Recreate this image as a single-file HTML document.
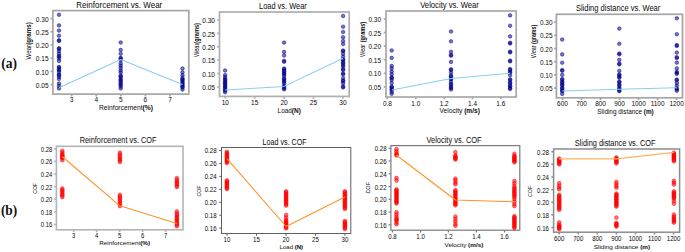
<!DOCTYPE html>
<html><head><meta charset="utf-8"><title>Wear and COF plots</title>
<style>
html,body{margin:0;padding:0;background:#fff;}
body{width:685px;height:252px;overflow:hidden;position:relative;}
svg{position:absolute;left:0;top:0;display:block;font-family:"Liberation Sans", sans-serif;}
</style></head><body>
<svg width="685" height="252" viewBox="0 0 685 252">
<rect width="685" height="252" fill="#fff"/>
<text x="1.2" y="67.5" font-family="Liberation Serif, serif" font-weight="bold" font-size="14.6" fill="#111" textLength="15.8" lengthAdjust="spacingAndGlyphs">(a)</text>
<text x="0.9" y="215.2" font-family="Liberation Serif, serif" font-weight="bold" font-size="14.6" fill="#111" textLength="16.4" lengthAdjust="spacingAndGlyphs">(b)</text>
<rect x="52.90" y="10.60" width="135.90" height="83.50" fill="none" stroke="#a6a6a6" stroke-width="1.7"/>
<line x1="50.60" y1="18.60" x2="52.90" y2="18.60" stroke="#a6a6a6" stroke-width="1.7"/>
<text x="35.85" y="21.74" font-size="7.34" text-anchor="start" font-weight="normal" fill="#0a0a0a" textLength="12.75" lengthAdjust="spacingAndGlyphs">0.30</text>
<line x1="50.60" y1="31.80" x2="52.90" y2="31.80" stroke="#a6a6a6" stroke-width="1.7"/>
<text x="35.85" y="34.94" font-size="7.34" text-anchor="start" font-weight="normal" fill="#0a0a0a" textLength="12.75" lengthAdjust="spacingAndGlyphs">0.25</text>
<line x1="50.60" y1="45.00" x2="52.90" y2="45.00" stroke="#a6a6a6" stroke-width="1.7"/>
<text x="35.85" y="48.14" font-size="7.34" text-anchor="start" font-weight="normal" fill="#0a0a0a" textLength="12.75" lengthAdjust="spacingAndGlyphs">0.20</text>
<line x1="50.60" y1="58.20" x2="52.90" y2="58.20" stroke="#a6a6a6" stroke-width="1.7"/>
<text x="35.85" y="61.34" font-size="7.34" text-anchor="start" font-weight="normal" fill="#0a0a0a" textLength="12.75" lengthAdjust="spacingAndGlyphs">0.15</text>
<line x1="50.60" y1="71.40" x2="52.90" y2="71.40" stroke="#a6a6a6" stroke-width="1.7"/>
<text x="35.85" y="74.54" font-size="7.34" text-anchor="start" font-weight="normal" fill="#0a0a0a" textLength="12.75" lengthAdjust="spacingAndGlyphs">0.10</text>
<line x1="50.60" y1="84.60" x2="52.90" y2="84.60" stroke="#a6a6a6" stroke-width="1.7"/>
<text x="35.85" y="87.74" font-size="7.34" text-anchor="start" font-weight="normal" fill="#0a0a0a" textLength="12.75" lengthAdjust="spacingAndGlyphs">0.05</text>
<line x1="71.60" y1="94.10" x2="71.60" y2="96.40" stroke="#a6a6a6" stroke-width="1.7"/>
<text x="69.78" y="101.90" font-size="7.34" text-anchor="start" font-weight="normal" fill="#0a0a0a" textLength="3.64" lengthAdjust="spacingAndGlyphs">3</text>
<line x1="96.20" y1="94.10" x2="96.20" y2="96.40" stroke="#a6a6a6" stroke-width="1.7"/>
<text x="94.38" y="101.90" font-size="7.34" text-anchor="start" font-weight="normal" fill="#0a0a0a" textLength="3.64" lengthAdjust="spacingAndGlyphs">4</text>
<line x1="120.80" y1="94.10" x2="120.80" y2="96.40" stroke="#a6a6a6" stroke-width="1.7"/>
<text x="118.98" y="101.90" font-size="7.34" text-anchor="start" font-weight="normal" fill="#0a0a0a" textLength="3.64" lengthAdjust="spacingAndGlyphs">5</text>
<line x1="145.40" y1="94.10" x2="145.40" y2="96.40" stroke="#a6a6a6" stroke-width="1.7"/>
<text x="143.58" y="101.90" font-size="7.34" text-anchor="start" font-weight="normal" fill="#0a0a0a" textLength="3.64" lengthAdjust="spacingAndGlyphs">6</text>
<line x1="170.00" y1="94.10" x2="170.00" y2="96.40" stroke="#a6a6a6" stroke-width="1.7"/>
<text x="168.18" y="101.90" font-size="7.34" text-anchor="start" font-weight="normal" fill="#0a0a0a" textLength="3.64" lengthAdjust="spacingAndGlyphs">7</text>
<text x="76.30" y="7.80" font-size="9.20" text-anchor="start" font-weight="normal" fill="#0a0a0a" textLength="86.00" lengthAdjust="spacingAndGlyphs">Reinforcement vs. Wear</text>
<text x="99.00" y="109.90" font-size="6.30" fill="#0a0a0a" textLength="54.00" lengthAdjust="spacingAndGlyphs"><tspan font-weight="normal">Reinforcement</tspan><tspan font-weight="bold">(%)</tspan></text>
<text transform="translate(30.97,59.40) rotate(-90)" x="0" y="0" font-size="6.30" fill="#0a0a0a" textLength="37.10" lengthAdjust="spacingAndGlyphs"><tspan font-weight="normal">Wear</tspan><tspan font-weight="bold">(grams)</tspan></text>
<circle cx="59.00" cy="14.80" r="1.80" fill="#00008b" fill-opacity="0.55" stroke="#00008b" stroke-opacity="0.65" stroke-width="0.7"/>
<circle cx="59.00" cy="25.40" r="1.80" fill="#00008b" fill-opacity="0.55" stroke="#00008b" stroke-opacity="0.65" stroke-width="0.7"/>
<circle cx="59.00" cy="30.60" r="1.80" fill="#00008b" fill-opacity="0.55" stroke="#00008b" stroke-opacity="0.65" stroke-width="0.7"/>
<circle cx="59.00" cy="35.70" r="1.80" fill="#00008b" fill-opacity="0.55" stroke="#00008b" stroke-opacity="0.65" stroke-width="0.7"/>
<circle cx="59.00" cy="40.30" r="1.80" fill="#00008b" fill-opacity="0.55" stroke="#00008b" stroke-opacity="0.65" stroke-width="0.7"/>
<circle cx="59.00" cy="40.90" r="1.80" fill="#00008b" fill-opacity="0.55" stroke="#00008b" stroke-opacity="0.65" stroke-width="0.7"/>
<circle cx="59.00" cy="48.20" r="1.80" fill="#00008b" fill-opacity="0.55" stroke="#00008b" stroke-opacity="0.65" stroke-width="0.7"/>
<circle cx="59.00" cy="48.80" r="1.80" fill="#00008b" fill-opacity="0.55" stroke="#00008b" stroke-opacity="0.65" stroke-width="0.7"/>
<circle cx="59.00" cy="51.00" r="1.80" fill="#00008b" fill-opacity="0.55" stroke="#00008b" stroke-opacity="0.65" stroke-width="0.7"/>
<circle cx="59.00" cy="53.50" r="1.80" fill="#00008b" fill-opacity="0.55" stroke="#00008b" stroke-opacity="0.65" stroke-width="0.7"/>
<circle cx="59.00" cy="56.00" r="1.80" fill="#00008b" fill-opacity="0.55" stroke="#00008b" stroke-opacity="0.65" stroke-width="0.7"/>
<circle cx="59.00" cy="56.60" r="1.80" fill="#00008b" fill-opacity="0.55" stroke="#00008b" stroke-opacity="0.65" stroke-width="0.7"/>
<circle cx="59.00" cy="58.50" r="1.80" fill="#00008b" fill-opacity="0.55" stroke="#00008b" stroke-opacity="0.65" stroke-width="0.7"/>
<circle cx="59.00" cy="61.00" r="1.80" fill="#00008b" fill-opacity="0.55" stroke="#00008b" stroke-opacity="0.65" stroke-width="0.7"/>
<circle cx="59.00" cy="67.00" r="1.80" fill="#00008b" fill-opacity="0.55" stroke="#00008b" stroke-opacity="0.65" stroke-width="0.7"/>
<circle cx="59.00" cy="67.60" r="1.80" fill="#00008b" fill-opacity="0.55" stroke="#00008b" stroke-opacity="0.65" stroke-width="0.7"/>
<circle cx="59.00" cy="69.50" r="1.80" fill="#00008b" fill-opacity="0.55" stroke="#00008b" stroke-opacity="0.65" stroke-width="0.7"/>
<circle cx="59.00" cy="70.20" r="1.80" fill="#00008b" fill-opacity="0.55" stroke="#00008b" stroke-opacity="0.65" stroke-width="0.7"/>
<circle cx="59.00" cy="72.00" r="1.80" fill="#00008b" fill-opacity="0.55" stroke="#00008b" stroke-opacity="0.65" stroke-width="0.7"/>
<circle cx="59.00" cy="74.50" r="1.80" fill="#00008b" fill-opacity="0.55" stroke="#00008b" stroke-opacity="0.65" stroke-width="0.7"/>
<circle cx="59.00" cy="75.10" r="1.80" fill="#00008b" fill-opacity="0.55" stroke="#00008b" stroke-opacity="0.65" stroke-width="0.7"/>
<circle cx="59.00" cy="77.00" r="1.80" fill="#00008b" fill-opacity="0.55" stroke="#00008b" stroke-opacity="0.65" stroke-width="0.7"/>
<circle cx="59.00" cy="79.00" r="1.80" fill="#00008b" fill-opacity="0.55" stroke="#00008b" stroke-opacity="0.65" stroke-width="0.7"/>
<circle cx="59.00" cy="83.50" r="1.80" fill="#00008b" fill-opacity="0.55" stroke="#00008b" stroke-opacity="0.65" stroke-width="0.7"/>
<circle cx="59.00" cy="86.00" r="1.80" fill="#00008b" fill-opacity="0.55" stroke="#00008b" stroke-opacity="0.65" stroke-width="0.7"/>
<circle cx="59.00" cy="88.50" r="1.80" fill="#00008b" fill-opacity="0.55" stroke="#00008b" stroke-opacity="0.65" stroke-width="0.7"/>
<circle cx="120.70" cy="42.50" r="1.80" fill="#00008b" fill-opacity="0.55" stroke="#00008b" stroke-opacity="0.65" stroke-width="0.7"/>
<circle cx="120.70" cy="49.90" r="1.80" fill="#00008b" fill-opacity="0.55" stroke="#00008b" stroke-opacity="0.65" stroke-width="0.7"/>
<circle cx="120.70" cy="53.70" r="1.80" fill="#00008b" fill-opacity="0.55" stroke="#00008b" stroke-opacity="0.65" stroke-width="0.7"/>
<circle cx="120.70" cy="57.90" r="1.80" fill="#00008b" fill-opacity="0.55" stroke="#00008b" stroke-opacity="0.65" stroke-width="0.7"/>
<circle cx="120.70" cy="58.50" r="1.80" fill="#00008b" fill-opacity="0.55" stroke="#00008b" stroke-opacity="0.65" stroke-width="0.7"/>
<circle cx="120.70" cy="60.20" r="1.80" fill="#00008b" fill-opacity="0.55" stroke="#00008b" stroke-opacity="0.65" stroke-width="0.7"/>
<circle cx="120.70" cy="63.40" r="1.80" fill="#00008b" fill-opacity="0.55" stroke="#00008b" stroke-opacity="0.65" stroke-width="0.7"/>
<circle cx="120.70" cy="65.80" r="1.80" fill="#00008b" fill-opacity="0.55" stroke="#00008b" stroke-opacity="0.65" stroke-width="0.7"/>
<circle cx="120.70" cy="68.00" r="1.80" fill="#00008b" fill-opacity="0.55" stroke="#00008b" stroke-opacity="0.65" stroke-width="0.7"/>
<circle cx="120.70" cy="70.50" r="1.80" fill="#00008b" fill-opacity="0.55" stroke="#00008b" stroke-opacity="0.65" stroke-width="0.7"/>
<circle cx="120.70" cy="72.50" r="1.80" fill="#00008b" fill-opacity="0.55" stroke="#00008b" stroke-opacity="0.65" stroke-width="0.7"/>
<circle cx="120.70" cy="75.60" r="1.80" fill="#00008b" fill-opacity="0.55" stroke="#00008b" stroke-opacity="0.65" stroke-width="0.7"/>
<circle cx="120.70" cy="76.40" r="1.80" fill="#00008b" fill-opacity="0.55" stroke="#00008b" stroke-opacity="0.65" stroke-width="0.7"/>
<circle cx="120.70" cy="78.00" r="1.80" fill="#00008b" fill-opacity="0.55" stroke="#00008b" stroke-opacity="0.65" stroke-width="0.7"/>
<circle cx="120.70" cy="79.80" r="1.80" fill="#00008b" fill-opacity="0.55" stroke="#00008b" stroke-opacity="0.65" stroke-width="0.7"/>
<circle cx="120.70" cy="80.60" r="1.80" fill="#00008b" fill-opacity="0.55" stroke="#00008b" stroke-opacity="0.65" stroke-width="0.7"/>
<circle cx="120.70" cy="82.20" r="1.80" fill="#00008b" fill-opacity="0.55" stroke="#00008b" stroke-opacity="0.65" stroke-width="0.7"/>
<circle cx="120.70" cy="84.00" r="1.80" fill="#00008b" fill-opacity="0.55" stroke="#00008b" stroke-opacity="0.65" stroke-width="0.7"/>
<circle cx="120.70" cy="84.80" r="1.80" fill="#00008b" fill-opacity="0.55" stroke="#00008b" stroke-opacity="0.65" stroke-width="0.7"/>
<circle cx="120.70" cy="86.50" r="1.80" fill="#00008b" fill-opacity="0.55" stroke="#00008b" stroke-opacity="0.65" stroke-width="0.7"/>
<circle cx="120.70" cy="88.50" r="1.80" fill="#00008b" fill-opacity="0.55" stroke="#00008b" stroke-opacity="0.65" stroke-width="0.7"/>
<circle cx="182.50" cy="68.50" r="1.80" fill="#00008b" fill-opacity="0.55" stroke="#00008b" stroke-opacity="0.65" stroke-width="0.7"/>
<circle cx="182.50" cy="72.40" r="1.80" fill="#00008b" fill-opacity="0.55" stroke="#00008b" stroke-opacity="0.65" stroke-width="0.7"/>
<circle cx="182.50" cy="75.20" r="1.80" fill="#00008b" fill-opacity="0.55" stroke="#00008b" stroke-opacity="0.65" stroke-width="0.7"/>
<circle cx="182.50" cy="77.80" r="1.80" fill="#00008b" fill-opacity="0.55" stroke="#00008b" stroke-opacity="0.65" stroke-width="0.7"/>
<circle cx="182.50" cy="79.30" r="1.80" fill="#00008b" fill-opacity="0.55" stroke="#00008b" stroke-opacity="0.65" stroke-width="0.7"/>
<circle cx="182.50" cy="80.10" r="1.80" fill="#00008b" fill-opacity="0.55" stroke="#00008b" stroke-opacity="0.65" stroke-width="0.7"/>
<circle cx="182.50" cy="81.50" r="1.80" fill="#00008b" fill-opacity="0.55" stroke="#00008b" stroke-opacity="0.65" stroke-width="0.7"/>
<circle cx="182.50" cy="82.90" r="1.80" fill="#00008b" fill-opacity="0.55" stroke="#00008b" stroke-opacity="0.65" stroke-width="0.7"/>
<circle cx="182.50" cy="83.70" r="1.80" fill="#00008b" fill-opacity="0.55" stroke="#00008b" stroke-opacity="0.65" stroke-width="0.7"/>
<circle cx="182.50" cy="85.20" r="1.80" fill="#00008b" fill-opacity="0.55" stroke="#00008b" stroke-opacity="0.65" stroke-width="0.7"/>
<circle cx="182.50" cy="86.60" r="1.80" fill="#00008b" fill-opacity="0.55" stroke="#00008b" stroke-opacity="0.65" stroke-width="0.7"/>
<circle cx="182.50" cy="87.40" r="1.80" fill="#00008b" fill-opacity="0.55" stroke="#00008b" stroke-opacity="0.65" stroke-width="0.7"/>
<circle cx="182.50" cy="89.60" r="1.80" fill="#00008b" fill-opacity="0.55" stroke="#00008b" stroke-opacity="0.65" stroke-width="0.7"/>
<polyline points="59.00,87.80 120.70,59.50 182.50,84.60" fill="none" stroke="#88cfee" stroke-width="1.05" stroke-linejoin="round"/>
<rect x="219.50" y="12.00" width="129.70" height="84.40" fill="none" stroke="#afafaf" stroke-width="1.7"/>
<line x1="217.20" y1="20.00" x2="219.50" y2="20.00" stroke="#afafaf" stroke-width="1.7"/>
<text x="202.25" y="23.14" font-size="7.34" text-anchor="start" font-weight="normal" fill="#0a0a0a" textLength="12.75" lengthAdjust="spacingAndGlyphs">0.30</text>
<line x1="217.20" y1="33.38" x2="219.50" y2="33.38" stroke="#afafaf" stroke-width="1.7"/>
<text x="202.25" y="36.52" font-size="7.34" text-anchor="start" font-weight="normal" fill="#0a0a0a" textLength="12.75" lengthAdjust="spacingAndGlyphs">0.25</text>
<line x1="217.20" y1="46.76" x2="219.50" y2="46.76" stroke="#afafaf" stroke-width="1.7"/>
<text x="202.25" y="49.90" font-size="7.34" text-anchor="start" font-weight="normal" fill="#0a0a0a" textLength="12.75" lengthAdjust="spacingAndGlyphs">0.20</text>
<line x1="217.20" y1="60.14" x2="219.50" y2="60.14" stroke="#afafaf" stroke-width="1.7"/>
<text x="202.25" y="63.28" font-size="7.34" text-anchor="start" font-weight="normal" fill="#0a0a0a" textLength="12.75" lengthAdjust="spacingAndGlyphs">0.15</text>
<line x1="217.20" y1="73.52" x2="219.50" y2="73.52" stroke="#afafaf" stroke-width="1.7"/>
<text x="202.25" y="76.66" font-size="7.34" text-anchor="start" font-weight="normal" fill="#0a0a0a" textLength="12.75" lengthAdjust="spacingAndGlyphs">0.10</text>
<line x1="217.20" y1="86.90" x2="219.50" y2="86.90" stroke="#afafaf" stroke-width="1.7"/>
<text x="202.25" y="90.04" font-size="7.34" text-anchor="start" font-weight="normal" fill="#0a0a0a" textLength="12.75" lengthAdjust="spacingAndGlyphs">0.05</text>
<line x1="225.30" y1="96.40" x2="225.30" y2="98.70" stroke="#afafaf" stroke-width="1.7"/>
<text x="221.66" y="104.60" font-size="7.34" text-anchor="start" font-weight="normal" fill="#0a0a0a" textLength="7.29" lengthAdjust="spacingAndGlyphs">10</text>
<line x1="254.70" y1="96.40" x2="254.70" y2="98.70" stroke="#afafaf" stroke-width="1.7"/>
<text x="251.06" y="104.60" font-size="7.34" text-anchor="start" font-weight="normal" fill="#0a0a0a" textLength="7.29" lengthAdjust="spacingAndGlyphs">15</text>
<line x1="284.10" y1="96.40" x2="284.10" y2="98.70" stroke="#afafaf" stroke-width="1.7"/>
<text x="280.46" y="104.60" font-size="7.34" text-anchor="start" font-weight="normal" fill="#0a0a0a" textLength="7.29" lengthAdjust="spacingAndGlyphs">20</text>
<line x1="313.50" y1="96.40" x2="313.50" y2="98.70" stroke="#afafaf" stroke-width="1.7"/>
<text x="309.86" y="104.60" font-size="7.34" text-anchor="start" font-weight="normal" fill="#0a0a0a" textLength="7.29" lengthAdjust="spacingAndGlyphs">25</text>
<line x1="342.90" y1="96.40" x2="342.90" y2="98.70" stroke="#afafaf" stroke-width="1.7"/>
<text x="339.26" y="104.60" font-size="7.34" text-anchor="start" font-weight="normal" fill="#0a0a0a" textLength="7.29" lengthAdjust="spacingAndGlyphs">30</text>
<text x="259.00" y="8.60" font-size="8.74" text-anchor="start" font-weight="normal" fill="#0a0a0a" textLength="47.80" lengthAdjust="spacingAndGlyphs">Load vs. Wear</text>
<text x="277.60" y="113.20" font-size="6.30" fill="#0a0a0a" textLength="23.20" lengthAdjust="spacingAndGlyphs"><tspan font-weight="normal">Load</tspan><tspan font-weight="bold">(N)</tspan></text>
<text transform="translate(198.97,57.00) rotate(-90)" x="0" y="0" font-size="6.30" fill="#0a0a0a" textLength="34.00" lengthAdjust="spacingAndGlyphs"><tspan font-weight="normal">Wear</tspan><tspan font-weight="bold">(grams)</tspan></text>
<circle cx="225.10" cy="70.50" r="1.80" fill="#00008b" fill-opacity="0.55" stroke="#00008b" stroke-opacity="0.65" stroke-width="0.7"/>
<circle cx="225.10" cy="75.00" r="1.80" fill="#00008b" fill-opacity="0.55" stroke="#00008b" stroke-opacity="0.65" stroke-width="0.7"/>
<circle cx="225.10" cy="77.00" r="1.80" fill="#00008b" fill-opacity="0.55" stroke="#00008b" stroke-opacity="0.65" stroke-width="0.7"/>
<circle cx="225.10" cy="79.00" r="1.80" fill="#00008b" fill-opacity="0.55" stroke="#00008b" stroke-opacity="0.65" stroke-width="0.7"/>
<circle cx="225.10" cy="79.80" r="1.80" fill="#00008b" fill-opacity="0.55" stroke="#00008b" stroke-opacity="0.65" stroke-width="0.7"/>
<circle cx="225.10" cy="81.20" r="1.80" fill="#00008b" fill-opacity="0.55" stroke="#00008b" stroke-opacity="0.65" stroke-width="0.7"/>
<circle cx="225.10" cy="82.60" r="1.80" fill="#00008b" fill-opacity="0.55" stroke="#00008b" stroke-opacity="0.65" stroke-width="0.7"/>
<circle cx="225.10" cy="83.40" r="1.80" fill="#00008b" fill-opacity="0.55" stroke="#00008b" stroke-opacity="0.65" stroke-width="0.7"/>
<circle cx="225.10" cy="84.80" r="1.80" fill="#00008b" fill-opacity="0.55" stroke="#00008b" stroke-opacity="0.65" stroke-width="0.7"/>
<circle cx="225.10" cy="86.20" r="1.80" fill="#00008b" fill-opacity="0.55" stroke="#00008b" stroke-opacity="0.65" stroke-width="0.7"/>
<circle cx="225.10" cy="87.00" r="1.80" fill="#00008b" fill-opacity="0.55" stroke="#00008b" stroke-opacity="0.65" stroke-width="0.7"/>
<circle cx="225.10" cy="88.40" r="1.80" fill="#00008b" fill-opacity="0.55" stroke="#00008b" stroke-opacity="0.65" stroke-width="0.7"/>
<circle cx="225.10" cy="89.80" r="1.80" fill="#00008b" fill-opacity="0.55" stroke="#00008b" stroke-opacity="0.65" stroke-width="0.7"/>
<circle cx="225.10" cy="90.60" r="1.80" fill="#00008b" fill-opacity="0.55" stroke="#00008b" stroke-opacity="0.65" stroke-width="0.7"/>
<circle cx="225.10" cy="92.30" r="1.80" fill="#00008b" fill-opacity="0.55" stroke="#00008b" stroke-opacity="0.65" stroke-width="0.7"/>
<circle cx="284.10" cy="42.60" r="1.80" fill="#00008b" fill-opacity="0.55" stroke="#00008b" stroke-opacity="0.65" stroke-width="0.7"/>
<circle cx="284.10" cy="51.90" r="1.80" fill="#00008b" fill-opacity="0.55" stroke="#00008b" stroke-opacity="0.65" stroke-width="0.7"/>
<circle cx="284.10" cy="55.50" r="1.80" fill="#00008b" fill-opacity="0.55" stroke="#00008b" stroke-opacity="0.65" stroke-width="0.7"/>
<circle cx="284.10" cy="60.80" r="1.80" fill="#00008b" fill-opacity="0.55" stroke="#00008b" stroke-opacity="0.65" stroke-width="0.7"/>
<circle cx="284.10" cy="61.80" r="1.80" fill="#00008b" fill-opacity="0.55" stroke="#00008b" stroke-opacity="0.65" stroke-width="0.7"/>
<circle cx="284.10" cy="68.50" r="1.80" fill="#00008b" fill-opacity="0.55" stroke="#00008b" stroke-opacity="0.65" stroke-width="0.7"/>
<circle cx="284.10" cy="69.30" r="1.80" fill="#00008b" fill-opacity="0.55" stroke="#00008b" stroke-opacity="0.65" stroke-width="0.7"/>
<circle cx="284.10" cy="71.00" r="1.80" fill="#00008b" fill-opacity="0.55" stroke="#00008b" stroke-opacity="0.65" stroke-width="0.7"/>
<circle cx="284.10" cy="71.80" r="1.80" fill="#00008b" fill-opacity="0.55" stroke="#00008b" stroke-opacity="0.65" stroke-width="0.7"/>
<circle cx="284.10" cy="73.50" r="1.80" fill="#00008b" fill-opacity="0.55" stroke="#00008b" stroke-opacity="0.65" stroke-width="0.7"/>
<circle cx="284.10" cy="74.30" r="1.80" fill="#00008b" fill-opacity="0.55" stroke="#00008b" stroke-opacity="0.65" stroke-width="0.7"/>
<circle cx="284.10" cy="76.00" r="1.80" fill="#00008b" fill-opacity="0.55" stroke="#00008b" stroke-opacity="0.65" stroke-width="0.7"/>
<circle cx="284.10" cy="78.50" r="1.80" fill="#00008b" fill-opacity="0.55" stroke="#00008b" stroke-opacity="0.65" stroke-width="0.7"/>
<circle cx="284.10" cy="79.30" r="1.80" fill="#00008b" fill-opacity="0.55" stroke="#00008b" stroke-opacity="0.65" stroke-width="0.7"/>
<circle cx="284.10" cy="81.00" r="1.80" fill="#00008b" fill-opacity="0.55" stroke="#00008b" stroke-opacity="0.65" stroke-width="0.7"/>
<circle cx="284.10" cy="81.80" r="1.80" fill="#00008b" fill-opacity="0.55" stroke="#00008b" stroke-opacity="0.65" stroke-width="0.7"/>
<circle cx="284.10" cy="83.50" r="1.80" fill="#00008b" fill-opacity="0.55" stroke="#00008b" stroke-opacity="0.65" stroke-width="0.7"/>
<circle cx="284.10" cy="86.00" r="1.80" fill="#00008b" fill-opacity="0.55" stroke="#00008b" stroke-opacity="0.65" stroke-width="0.7"/>
<circle cx="284.10" cy="86.80" r="1.80" fill="#00008b" fill-opacity="0.55" stroke="#00008b" stroke-opacity="0.65" stroke-width="0.7"/>
<circle cx="284.10" cy="88.50" r="1.80" fill="#00008b" fill-opacity="0.55" stroke="#00008b" stroke-opacity="0.65" stroke-width="0.7"/>
<circle cx="284.10" cy="89.30" r="1.80" fill="#00008b" fill-opacity="0.55" stroke="#00008b" stroke-opacity="0.65" stroke-width="0.7"/>
<circle cx="343.10" cy="16.00" r="1.80" fill="#00008b" fill-opacity="0.55" stroke="#00008b" stroke-opacity="0.65" stroke-width="0.7"/>
<circle cx="343.10" cy="26.70" r="1.80" fill="#00008b" fill-opacity="0.55" stroke="#00008b" stroke-opacity="0.65" stroke-width="0.7"/>
<circle cx="343.10" cy="32.00" r="1.80" fill="#00008b" fill-opacity="0.55" stroke="#00008b" stroke-opacity="0.65" stroke-width="0.7"/>
<circle cx="343.10" cy="37.20" r="1.80" fill="#00008b" fill-opacity="0.55" stroke="#00008b" stroke-opacity="0.65" stroke-width="0.7"/>
<circle cx="343.10" cy="41.00" r="1.80" fill="#00008b" fill-opacity="0.55" stroke="#00008b" stroke-opacity="0.65" stroke-width="0.7"/>
<circle cx="343.10" cy="44.10" r="1.80" fill="#00008b" fill-opacity="0.55" stroke="#00008b" stroke-opacity="0.65" stroke-width="0.7"/>
<circle cx="343.10" cy="50.50" r="1.80" fill="#00008b" fill-opacity="0.55" stroke="#00008b" stroke-opacity="0.65" stroke-width="0.7"/>
<circle cx="343.10" cy="51.30" r="1.80" fill="#00008b" fill-opacity="0.55" stroke="#00008b" stroke-opacity="0.65" stroke-width="0.7"/>
<circle cx="343.10" cy="53.90" r="1.80" fill="#00008b" fill-opacity="0.55" stroke="#00008b" stroke-opacity="0.65" stroke-width="0.7"/>
<circle cx="343.10" cy="56.80" r="1.80" fill="#00008b" fill-opacity="0.55" stroke="#00008b" stroke-opacity="0.65" stroke-width="0.7"/>
<circle cx="343.10" cy="59.40" r="1.80" fill="#00008b" fill-opacity="0.55" stroke="#00008b" stroke-opacity="0.65" stroke-width="0.7"/>
<circle cx="343.10" cy="60.20" r="1.80" fill="#00008b" fill-opacity="0.55" stroke="#00008b" stroke-opacity="0.65" stroke-width="0.7"/>
<circle cx="343.10" cy="62.60" r="1.80" fill="#00008b" fill-opacity="0.55" stroke="#00008b" stroke-opacity="0.65" stroke-width="0.7"/>
<circle cx="343.10" cy="63.20" r="1.80" fill="#00008b" fill-opacity="0.55" stroke="#00008b" stroke-opacity="0.65" stroke-width="0.7"/>
<circle cx="343.10" cy="65.20" r="1.80" fill="#00008b" fill-opacity="0.55" stroke="#00008b" stroke-opacity="0.65" stroke-width="0.7"/>
<circle cx="343.10" cy="66.50" r="1.80" fill="#00008b" fill-opacity="0.55" stroke="#00008b" stroke-opacity="0.65" stroke-width="0.7"/>
<circle cx="343.10" cy="69.30" r="1.80" fill="#00008b" fill-opacity="0.55" stroke="#00008b" stroke-opacity="0.65" stroke-width="0.7"/>
<circle cx="343.10" cy="70.10" r="1.80" fill="#00008b" fill-opacity="0.55" stroke="#00008b" stroke-opacity="0.65" stroke-width="0.7"/>
<circle cx="343.10" cy="73.50" r="1.80" fill="#00008b" fill-opacity="0.55" stroke="#00008b" stroke-opacity="0.65" stroke-width="0.7"/>
<circle cx="343.10" cy="74.30" r="1.80" fill="#00008b" fill-opacity="0.55" stroke="#00008b" stroke-opacity="0.65" stroke-width="0.7"/>
<circle cx="343.10" cy="78.00" r="1.80" fill="#00008b" fill-opacity="0.55" stroke="#00008b" stroke-opacity="0.65" stroke-width="0.7"/>
<circle cx="343.10" cy="80.50" r="1.80" fill="#00008b" fill-opacity="0.55" stroke="#00008b" stroke-opacity="0.65" stroke-width="0.7"/>
<circle cx="343.10" cy="81.20" r="1.80" fill="#00008b" fill-opacity="0.55" stroke="#00008b" stroke-opacity="0.65" stroke-width="0.7"/>
<circle cx="343.10" cy="83.40" r="1.80" fill="#00008b" fill-opacity="0.55" stroke="#00008b" stroke-opacity="0.65" stroke-width="0.7"/>
<circle cx="343.10" cy="86.60" r="1.80" fill="#00008b" fill-opacity="0.55" stroke="#00008b" stroke-opacity="0.65" stroke-width="0.7"/>
<circle cx="343.10" cy="87.40" r="1.80" fill="#00008b" fill-opacity="0.55" stroke="#00008b" stroke-opacity="0.65" stroke-width="0.7"/>
<polyline points="225.10,89.90 284.10,86.40 343.10,58.20" fill="none" stroke="#88cfee" stroke-width="1.05" stroke-linejoin="round"/>
<rect x="386.00" y="11.00" width="130.20" height="86.00" fill="none" stroke="#a8a8a8" stroke-width="1.7"/>
<line x1="383.70" y1="19.00" x2="386.00" y2="19.00" stroke="#a8a8a8" stroke-width="1.7"/>
<text x="368.45" y="22.10" font-size="7.22" text-anchor="start" font-weight="normal" fill="#0a0a0a" textLength="12.55" lengthAdjust="spacingAndGlyphs">0.30</text>
<line x1="383.70" y1="32.58" x2="386.00" y2="32.58" stroke="#a8a8a8" stroke-width="1.7"/>
<text x="368.45" y="35.68" font-size="7.22" text-anchor="start" font-weight="normal" fill="#0a0a0a" textLength="12.55" lengthAdjust="spacingAndGlyphs">0.25</text>
<line x1="383.70" y1="46.16" x2="386.00" y2="46.16" stroke="#a8a8a8" stroke-width="1.7"/>
<text x="368.45" y="49.26" font-size="7.22" text-anchor="start" font-weight="normal" fill="#0a0a0a" textLength="12.55" lengthAdjust="spacingAndGlyphs">0.20</text>
<line x1="383.70" y1="59.74" x2="386.00" y2="59.74" stroke="#a8a8a8" stroke-width="1.7"/>
<text x="368.45" y="62.84" font-size="7.22" text-anchor="start" font-weight="normal" fill="#0a0a0a" textLength="12.55" lengthAdjust="spacingAndGlyphs">0.15</text>
<line x1="383.70" y1="73.32" x2="386.00" y2="73.32" stroke="#a8a8a8" stroke-width="1.7"/>
<text x="368.45" y="76.42" font-size="7.22" text-anchor="start" font-weight="normal" fill="#0a0a0a" textLength="12.55" lengthAdjust="spacingAndGlyphs">0.10</text>
<line x1="383.70" y1="86.90" x2="386.00" y2="86.90" stroke="#a8a8a8" stroke-width="1.7"/>
<text x="368.45" y="90.00" font-size="7.22" text-anchor="start" font-weight="normal" fill="#0a0a0a" textLength="12.55" lengthAdjust="spacingAndGlyphs">0.05</text>
<line x1="387.40" y1="97.00" x2="387.40" y2="99.30" stroke="#a8a8a8" stroke-width="1.7"/>
<text x="382.92" y="105.50" font-size="7.22" text-anchor="start" font-weight="normal" fill="#0a0a0a" textLength="8.96" lengthAdjust="spacingAndGlyphs">0.8</text>
<line x1="415.80" y1="97.00" x2="415.80" y2="99.30" stroke="#a8a8a8" stroke-width="1.7"/>
<text x="411.32" y="105.50" font-size="7.22" text-anchor="start" font-weight="normal" fill="#0a0a0a" textLength="8.96" lengthAdjust="spacingAndGlyphs">1.0</text>
<line x1="444.20" y1="97.00" x2="444.20" y2="99.30" stroke="#a8a8a8" stroke-width="1.7"/>
<text x="439.72" y="105.50" font-size="7.22" text-anchor="start" font-weight="normal" fill="#0a0a0a" textLength="8.96" lengthAdjust="spacingAndGlyphs">1.2</text>
<line x1="472.50" y1="97.00" x2="472.50" y2="99.30" stroke="#a8a8a8" stroke-width="1.7"/>
<text x="468.02" y="105.50" font-size="7.22" text-anchor="start" font-weight="normal" fill="#0a0a0a" textLength="8.96" lengthAdjust="spacingAndGlyphs">1.4</text>
<line x1="500.80" y1="97.00" x2="500.80" y2="99.30" stroke="#a8a8a8" stroke-width="1.7"/>
<text x="496.32" y="105.50" font-size="7.22" text-anchor="start" font-weight="normal" fill="#0a0a0a" textLength="8.96" lengthAdjust="spacingAndGlyphs">1.6</text>
<text x="420.20" y="8.20" font-size="8.74" text-anchor="start" font-weight="normal" fill="#0a0a0a" textLength="58.60" lengthAdjust="spacingAndGlyphs">Velocity vs. Wear</text>
<text x="439.50" y="113.40" font-size="6.30" fill="#0a0a0a" textLength="40.50" lengthAdjust="spacingAndGlyphs"><tspan font-weight="normal">Velocity </tspan><tspan font-weight="bold">(m/s)</tspan></text>
<text transform="translate(365.37,57.00) rotate(-90)" x="0" y="0" font-size="6.30" fill="#0a0a0a" textLength="35.20" lengthAdjust="spacingAndGlyphs"><tspan font-weight="normal">Wear </tspan><tspan font-weight="bold">(grams)</tspan></text>
<circle cx="391.70" cy="50.50" r="1.80" fill="#00008b" fill-opacity="0.55" stroke="#00008b" stroke-opacity="0.65" stroke-width="0.7"/>
<circle cx="391.70" cy="57.90" r="1.80" fill="#00008b" fill-opacity="0.55" stroke="#00008b" stroke-opacity="0.65" stroke-width="0.7"/>
<circle cx="391.70" cy="65.90" r="1.80" fill="#00008b" fill-opacity="0.55" stroke="#00008b" stroke-opacity="0.65" stroke-width="0.7"/>
<circle cx="391.70" cy="68.40" r="1.80" fill="#00008b" fill-opacity="0.55" stroke="#00008b" stroke-opacity="0.65" stroke-width="0.7"/>
<circle cx="391.70" cy="71.60" r="1.80" fill="#00008b" fill-opacity="0.55" stroke="#00008b" stroke-opacity="0.65" stroke-width="0.7"/>
<circle cx="391.70" cy="74.20" r="1.80" fill="#00008b" fill-opacity="0.55" stroke="#00008b" stroke-opacity="0.65" stroke-width="0.7"/>
<circle cx="391.70" cy="77.30" r="1.80" fill="#00008b" fill-opacity="0.55" stroke="#00008b" stroke-opacity="0.65" stroke-width="0.7"/>
<circle cx="391.70" cy="78.10" r="1.80" fill="#00008b" fill-opacity="0.55" stroke="#00008b" stroke-opacity="0.65" stroke-width="0.7"/>
<circle cx="391.70" cy="79.90" r="1.80" fill="#00008b" fill-opacity="0.55" stroke="#00008b" stroke-opacity="0.65" stroke-width="0.7"/>
<circle cx="391.70" cy="83.00" r="1.80" fill="#00008b" fill-opacity="0.55" stroke="#00008b" stroke-opacity="0.65" stroke-width="0.7"/>
<circle cx="391.70" cy="86.50" r="1.80" fill="#00008b" fill-opacity="0.55" stroke="#00008b" stroke-opacity="0.65" stroke-width="0.7"/>
<circle cx="391.70" cy="87.30" r="1.80" fill="#00008b" fill-opacity="0.55" stroke="#00008b" stroke-opacity="0.65" stroke-width="0.7"/>
<circle cx="391.70" cy="89.00" r="1.80" fill="#00008b" fill-opacity="0.55" stroke="#00008b" stroke-opacity="0.65" stroke-width="0.7"/>
<circle cx="391.70" cy="89.80" r="1.80" fill="#00008b" fill-opacity="0.55" stroke="#00008b" stroke-opacity="0.65" stroke-width="0.7"/>
<circle cx="391.70" cy="91.90" r="1.80" fill="#00008b" fill-opacity="0.55" stroke="#00008b" stroke-opacity="0.65" stroke-width="0.7"/>
<circle cx="391.70" cy="93.80" r="1.80" fill="#00008b" fill-opacity="0.55" stroke="#00008b" stroke-opacity="0.65" stroke-width="0.7"/>
<circle cx="451.00" cy="31.50" r="1.80" fill="#00008b" fill-opacity="0.55" stroke="#00008b" stroke-opacity="0.65" stroke-width="0.7"/>
<circle cx="451.00" cy="41.30" r="1.80" fill="#00008b" fill-opacity="0.55" stroke="#00008b" stroke-opacity="0.65" stroke-width="0.7"/>
<circle cx="451.00" cy="51.80" r="1.80" fill="#00008b" fill-opacity="0.55" stroke="#00008b" stroke-opacity="0.65" stroke-width="0.7"/>
<circle cx="451.00" cy="54.90" r="1.80" fill="#00008b" fill-opacity="0.55" stroke="#00008b" stroke-opacity="0.65" stroke-width="0.7"/>
<circle cx="451.00" cy="55.70" r="1.80" fill="#00008b" fill-opacity="0.55" stroke="#00008b" stroke-opacity="0.65" stroke-width="0.7"/>
<circle cx="451.00" cy="61.90" r="1.80" fill="#00008b" fill-opacity="0.55" stroke="#00008b" stroke-opacity="0.65" stroke-width="0.7"/>
<circle cx="451.00" cy="69.30" r="1.80" fill="#00008b" fill-opacity="0.55" stroke="#00008b" stroke-opacity="0.65" stroke-width="0.7"/>
<circle cx="451.00" cy="70.10" r="1.80" fill="#00008b" fill-opacity="0.55" stroke="#00008b" stroke-opacity="0.65" stroke-width="0.7"/>
<circle cx="451.00" cy="72.90" r="1.80" fill="#00008b" fill-opacity="0.55" stroke="#00008b" stroke-opacity="0.65" stroke-width="0.7"/>
<circle cx="451.00" cy="75.70" r="1.80" fill="#00008b" fill-opacity="0.55" stroke="#00008b" stroke-opacity="0.65" stroke-width="0.7"/>
<circle cx="451.00" cy="76.50" r="1.80" fill="#00008b" fill-opacity="0.55" stroke="#00008b" stroke-opacity="0.65" stroke-width="0.7"/>
<circle cx="451.00" cy="78.60" r="1.80" fill="#00008b" fill-opacity="0.55" stroke="#00008b" stroke-opacity="0.65" stroke-width="0.7"/>
<circle cx="451.00" cy="79.40" r="1.80" fill="#00008b" fill-opacity="0.55" stroke="#00008b" stroke-opacity="0.65" stroke-width="0.7"/>
<circle cx="451.00" cy="81.80" r="1.80" fill="#00008b" fill-opacity="0.55" stroke="#00008b" stroke-opacity="0.65" stroke-width="0.7"/>
<circle cx="451.00" cy="84.00" r="1.80" fill="#00008b" fill-opacity="0.55" stroke="#00008b" stroke-opacity="0.65" stroke-width="0.7"/>
<circle cx="451.00" cy="84.80" r="1.80" fill="#00008b" fill-opacity="0.55" stroke="#00008b" stroke-opacity="0.65" stroke-width="0.7"/>
<circle cx="451.00" cy="87.10" r="1.80" fill="#00008b" fill-opacity="0.55" stroke="#00008b" stroke-opacity="0.65" stroke-width="0.7"/>
<circle cx="451.00" cy="87.90" r="1.80" fill="#00008b" fill-opacity="0.55" stroke="#00008b" stroke-opacity="0.65" stroke-width="0.7"/>
<circle cx="451.00" cy="89.40" r="1.80" fill="#00008b" fill-opacity="0.55" stroke="#00008b" stroke-opacity="0.65" stroke-width="0.7"/>
<circle cx="510.10" cy="15.40" r="1.80" fill="#00008b" fill-opacity="0.55" stroke="#00008b" stroke-opacity="0.65" stroke-width="0.7"/>
<circle cx="510.10" cy="25.80" r="1.80" fill="#00008b" fill-opacity="0.55" stroke="#00008b" stroke-opacity="0.65" stroke-width="0.7"/>
<circle cx="510.10" cy="36.40" r="1.80" fill="#00008b" fill-opacity="0.55" stroke="#00008b" stroke-opacity="0.65" stroke-width="0.7"/>
<circle cx="510.10" cy="42.70" r="1.80" fill="#00008b" fill-opacity="0.55" stroke="#00008b" stroke-opacity="0.65" stroke-width="0.7"/>
<circle cx="510.10" cy="43.50" r="1.80" fill="#00008b" fill-opacity="0.55" stroke="#00008b" stroke-opacity="0.65" stroke-width="0.7"/>
<circle cx="510.10" cy="51.60" r="1.80" fill="#00008b" fill-opacity="0.55" stroke="#00008b" stroke-opacity="0.65" stroke-width="0.7"/>
<circle cx="510.10" cy="52.40" r="1.80" fill="#00008b" fill-opacity="0.55" stroke="#00008b" stroke-opacity="0.65" stroke-width="0.7"/>
<circle cx="510.10" cy="60.60" r="1.80" fill="#00008b" fill-opacity="0.55" stroke="#00008b" stroke-opacity="0.65" stroke-width="0.7"/>
<circle cx="510.10" cy="61.40" r="1.80" fill="#00008b" fill-opacity="0.55" stroke="#00008b" stroke-opacity="0.65" stroke-width="0.7"/>
<circle cx="510.10" cy="69.10" r="1.80" fill="#00008b" fill-opacity="0.55" stroke="#00008b" stroke-opacity="0.65" stroke-width="0.7"/>
<circle cx="510.10" cy="69.90" r="1.80" fill="#00008b" fill-opacity="0.55" stroke="#00008b" stroke-opacity="0.65" stroke-width="0.7"/>
<circle cx="510.10" cy="71.70" r="1.80" fill="#00008b" fill-opacity="0.55" stroke="#00008b" stroke-opacity="0.65" stroke-width="0.7"/>
<circle cx="510.10" cy="72.50" r="1.80" fill="#00008b" fill-opacity="0.55" stroke="#00008b" stroke-opacity="0.65" stroke-width="0.7"/>
<circle cx="510.10" cy="75.20" r="1.80" fill="#00008b" fill-opacity="0.55" stroke="#00008b" stroke-opacity="0.65" stroke-width="0.7"/>
<circle cx="510.10" cy="79.30" r="1.80" fill="#00008b" fill-opacity="0.55" stroke="#00008b" stroke-opacity="0.65" stroke-width="0.7"/>
<circle cx="510.10" cy="80.10" r="1.80" fill="#00008b" fill-opacity="0.55" stroke="#00008b" stroke-opacity="0.65" stroke-width="0.7"/>
<circle cx="510.10" cy="82.50" r="1.80" fill="#00008b" fill-opacity="0.55" stroke="#00008b" stroke-opacity="0.65" stroke-width="0.7"/>
<circle cx="510.10" cy="83.30" r="1.80" fill="#00008b" fill-opacity="0.55" stroke="#00008b" stroke-opacity="0.65" stroke-width="0.7"/>
<circle cx="510.10" cy="85.60" r="1.80" fill="#00008b" fill-opacity="0.55" stroke="#00008b" stroke-opacity="0.65" stroke-width="0.7"/>
<circle cx="510.10" cy="86.40" r="1.80" fill="#00008b" fill-opacity="0.55" stroke="#00008b" stroke-opacity="0.65" stroke-width="0.7"/>
<circle cx="510.10" cy="88.20" r="1.80" fill="#00008b" fill-opacity="0.55" stroke="#00008b" stroke-opacity="0.65" stroke-width="0.7"/>
<circle cx="510.10" cy="89.00" r="1.80" fill="#00008b" fill-opacity="0.55" stroke="#00008b" stroke-opacity="0.65" stroke-width="0.7"/>
<polyline points="391.90,90.00 451.10,78.40 510.10,73.30" fill="none" stroke="#88cfee" stroke-width="1.05" stroke-linejoin="round"/>
<rect x="556.40" y="14.30" width="126.10" height="83.50" fill="none" stroke="#a5a5a5" stroke-width="1.7"/>
<line x1="554.10" y1="22.10" x2="556.40" y2="22.10" stroke="#a5a5a5" stroke-width="1.7"/>
<text x="539.95" y="25.20" font-size="7.22" text-anchor="start" font-weight="normal" fill="#0a0a0a" textLength="12.55" lengthAdjust="spacingAndGlyphs">0.30</text>
<line x1="554.10" y1="35.30" x2="556.40" y2="35.30" stroke="#a5a5a5" stroke-width="1.7"/>
<text x="539.95" y="38.40" font-size="7.22" text-anchor="start" font-weight="normal" fill="#0a0a0a" textLength="12.55" lengthAdjust="spacingAndGlyphs">0.25</text>
<line x1="554.10" y1="48.50" x2="556.40" y2="48.50" stroke="#a5a5a5" stroke-width="1.7"/>
<text x="539.95" y="51.60" font-size="7.22" text-anchor="start" font-weight="normal" fill="#0a0a0a" textLength="12.55" lengthAdjust="spacingAndGlyphs">0.20</text>
<line x1="554.10" y1="61.70" x2="556.40" y2="61.70" stroke="#a5a5a5" stroke-width="1.7"/>
<text x="539.95" y="64.80" font-size="7.22" text-anchor="start" font-weight="normal" fill="#0a0a0a" textLength="12.55" lengthAdjust="spacingAndGlyphs">0.15</text>
<line x1="554.10" y1="74.90" x2="556.40" y2="74.90" stroke="#a5a5a5" stroke-width="1.7"/>
<text x="539.95" y="78.00" font-size="7.22" text-anchor="start" font-weight="normal" fill="#0a0a0a" textLength="12.55" lengthAdjust="spacingAndGlyphs">0.10</text>
<line x1="554.10" y1="88.10" x2="556.40" y2="88.10" stroke="#a5a5a5" stroke-width="1.7"/>
<text x="539.95" y="91.20" font-size="7.22" text-anchor="start" font-weight="normal" fill="#0a0a0a" textLength="12.55" lengthAdjust="spacingAndGlyphs">0.05</text>
<line x1="562.50" y1="97.80" x2="562.50" y2="100.10" stroke="#a5a5a5" stroke-width="1.7"/>
<text x="557.12" y="105.80" font-size="7.22" text-anchor="start" font-weight="normal" fill="#0a0a0a" textLength="10.76" lengthAdjust="spacingAndGlyphs">600</text>
<line x1="581.52" y1="97.80" x2="581.52" y2="100.10" stroke="#a5a5a5" stroke-width="1.7"/>
<text x="576.14" y="105.80" font-size="7.22" text-anchor="start" font-weight="normal" fill="#0a0a0a" textLength="10.76" lengthAdjust="spacingAndGlyphs">700</text>
<line x1="600.53" y1="97.80" x2="600.53" y2="100.10" stroke="#a5a5a5" stroke-width="1.7"/>
<text x="595.15" y="105.80" font-size="7.22" text-anchor="start" font-weight="normal" fill="#0a0a0a" textLength="10.76" lengthAdjust="spacingAndGlyphs">800</text>
<line x1="619.55" y1="97.80" x2="619.55" y2="100.10" stroke="#a5a5a5" stroke-width="1.7"/>
<text x="614.17" y="105.80" font-size="7.22" text-anchor="start" font-weight="normal" fill="#0a0a0a" textLength="10.76" lengthAdjust="spacingAndGlyphs">900</text>
<line x1="638.57" y1="97.80" x2="638.57" y2="100.10" stroke="#a5a5a5" stroke-width="1.7"/>
<text x="631.40" y="105.80" font-size="7.22" text-anchor="start" font-weight="normal" fill="#0a0a0a" textLength="14.34" lengthAdjust="spacingAndGlyphs">1000</text>
<line x1="657.58" y1="97.80" x2="657.58" y2="100.10" stroke="#a5a5a5" stroke-width="1.7"/>
<text x="650.65" y="105.80" font-size="7.22" text-anchor="start" font-weight="normal" fill="#0a0a0a" textLength="13.86" lengthAdjust="spacingAndGlyphs">1100</text>
<line x1="676.60" y1="97.80" x2="676.60" y2="100.10" stroke="#a5a5a5" stroke-width="1.7"/>
<text x="669.43" y="105.80" font-size="7.22" text-anchor="start" font-weight="normal" fill="#0a0a0a" textLength="14.34" lengthAdjust="spacingAndGlyphs">1200</text>
<text x="575.90" y="11.20" font-size="8.74" text-anchor="start" font-weight="normal" fill="#0a0a0a" textLength="84.40" lengthAdjust="spacingAndGlyphs">Sliding distance vs. Wear</text>
<text x="597.30" y="114.00" font-size="6.30" fill="#0a0a0a" textLength="56.40" lengthAdjust="spacingAndGlyphs"><tspan font-weight="normal">Sliding distance </tspan><tspan font-weight="bold">(m)</tspan></text>
<text transform="translate(536.37,57.90) rotate(-90)" x="0" y="0" font-size="6.30" fill="#0a0a0a" textLength="33.10" lengthAdjust="spacingAndGlyphs"><tspan font-weight="normal">Wear </tspan><tspan font-weight="bold">(grams)</tspan></text>
<circle cx="562.20" cy="39.50" r="1.80" fill="#00008b" fill-opacity="0.55" stroke="#00008b" stroke-opacity="0.65" stroke-width="0.7"/>
<circle cx="562.20" cy="54.40" r="1.80" fill="#00008b" fill-opacity="0.55" stroke="#00008b" stroke-opacity="0.65" stroke-width="0.7"/>
<circle cx="562.20" cy="62.70" r="1.80" fill="#00008b" fill-opacity="0.55" stroke="#00008b" stroke-opacity="0.65" stroke-width="0.7"/>
<circle cx="562.20" cy="70.00" r="1.80" fill="#00008b" fill-opacity="0.55" stroke="#00008b" stroke-opacity="0.65" stroke-width="0.7"/>
<circle cx="562.20" cy="70.80" r="1.80" fill="#00008b" fill-opacity="0.55" stroke="#00008b" stroke-opacity="0.65" stroke-width="0.7"/>
<circle cx="562.20" cy="74.90" r="1.80" fill="#00008b" fill-opacity="0.55" stroke="#00008b" stroke-opacity="0.65" stroke-width="0.7"/>
<circle cx="562.20" cy="79.00" r="1.80" fill="#00008b" fill-opacity="0.55" stroke="#00008b" stroke-opacity="0.65" stroke-width="0.7"/>
<circle cx="562.20" cy="79.80" r="1.80" fill="#00008b" fill-opacity="0.55" stroke="#00008b" stroke-opacity="0.65" stroke-width="0.7"/>
<circle cx="562.20" cy="81.90" r="1.80" fill="#00008b" fill-opacity="0.55" stroke="#00008b" stroke-opacity="0.65" stroke-width="0.7"/>
<circle cx="562.20" cy="82.70" r="1.80" fill="#00008b" fill-opacity="0.55" stroke="#00008b" stroke-opacity="0.65" stroke-width="0.7"/>
<circle cx="562.20" cy="84.60" r="1.80" fill="#00008b" fill-opacity="0.55" stroke="#00008b" stroke-opacity="0.65" stroke-width="0.7"/>
<circle cx="562.20" cy="85.40" r="1.80" fill="#00008b" fill-opacity="0.55" stroke="#00008b" stroke-opacity="0.65" stroke-width="0.7"/>
<circle cx="562.20" cy="87.80" r="1.80" fill="#00008b" fill-opacity="0.55" stroke="#00008b" stroke-opacity="0.65" stroke-width="0.7"/>
<circle cx="562.20" cy="88.60" r="1.80" fill="#00008b" fill-opacity="0.55" stroke="#00008b" stroke-opacity="0.65" stroke-width="0.7"/>
<circle cx="562.20" cy="90.40" r="1.80" fill="#00008b" fill-opacity="0.55" stroke="#00008b" stroke-opacity="0.65" stroke-width="0.7"/>
<circle cx="562.20" cy="91.20" r="1.80" fill="#00008b" fill-opacity="0.55" stroke="#00008b" stroke-opacity="0.65" stroke-width="0.7"/>
<circle cx="562.20" cy="93.90" r="1.80" fill="#00008b" fill-opacity="0.55" stroke="#00008b" stroke-opacity="0.65" stroke-width="0.7"/>
<circle cx="619.30" cy="28.60" r="1.80" fill="#00008b" fill-opacity="0.55" stroke="#00008b" stroke-opacity="0.65" stroke-width="0.7"/>
<circle cx="619.30" cy="43.80" r="1.80" fill="#00008b" fill-opacity="0.55" stroke="#00008b" stroke-opacity="0.65" stroke-width="0.7"/>
<circle cx="619.30" cy="53.50" r="1.80" fill="#00008b" fill-opacity="0.55" stroke="#00008b" stroke-opacity="0.65" stroke-width="0.7"/>
<circle cx="619.30" cy="54.30" r="1.80" fill="#00008b" fill-opacity="0.55" stroke="#00008b" stroke-opacity="0.65" stroke-width="0.7"/>
<circle cx="619.30" cy="59.90" r="1.80" fill="#00008b" fill-opacity="0.55" stroke="#00008b" stroke-opacity="0.65" stroke-width="0.7"/>
<circle cx="619.30" cy="63.60" r="1.80" fill="#00008b" fill-opacity="0.55" stroke="#00008b" stroke-opacity="0.65" stroke-width="0.7"/>
<circle cx="619.30" cy="64.40" r="1.80" fill="#00008b" fill-opacity="0.55" stroke="#00008b" stroke-opacity="0.65" stroke-width="0.7"/>
<circle cx="619.30" cy="70.90" r="1.80" fill="#00008b" fill-opacity="0.55" stroke="#00008b" stroke-opacity="0.65" stroke-width="0.7"/>
<circle cx="619.30" cy="74.50" r="1.80" fill="#00008b" fill-opacity="0.55" stroke="#00008b" stroke-opacity="0.65" stroke-width="0.7"/>
<circle cx="619.30" cy="75.30" r="1.80" fill="#00008b" fill-opacity="0.55" stroke="#00008b" stroke-opacity="0.65" stroke-width="0.7"/>
<circle cx="619.30" cy="77.00" r="1.80" fill="#00008b" fill-opacity="0.55" stroke="#00008b" stroke-opacity="0.65" stroke-width="0.7"/>
<circle cx="619.30" cy="77.80" r="1.80" fill="#00008b" fill-opacity="0.55" stroke="#00008b" stroke-opacity="0.65" stroke-width="0.7"/>
<circle cx="619.30" cy="81.50" r="1.80" fill="#00008b" fill-opacity="0.55" stroke="#00008b" stroke-opacity="0.65" stroke-width="0.7"/>
<circle cx="619.30" cy="82.30" r="1.80" fill="#00008b" fill-opacity="0.55" stroke="#00008b" stroke-opacity="0.65" stroke-width="0.7"/>
<circle cx="619.30" cy="84.60" r="1.80" fill="#00008b" fill-opacity="0.55" stroke="#00008b" stroke-opacity="0.65" stroke-width="0.7"/>
<circle cx="619.30" cy="85.40" r="1.80" fill="#00008b" fill-opacity="0.55" stroke="#00008b" stroke-opacity="0.65" stroke-width="0.7"/>
<circle cx="619.30" cy="87.80" r="1.80" fill="#00008b" fill-opacity="0.55" stroke="#00008b" stroke-opacity="0.65" stroke-width="0.7"/>
<circle cx="619.30" cy="88.60" r="1.80" fill="#00008b" fill-opacity="0.55" stroke="#00008b" stroke-opacity="0.65" stroke-width="0.7"/>
<circle cx="619.30" cy="90.40" r="1.80" fill="#00008b" fill-opacity="0.55" stroke="#00008b" stroke-opacity="0.65" stroke-width="0.7"/>
<circle cx="619.30" cy="91.20" r="1.80" fill="#00008b" fill-opacity="0.55" stroke="#00008b" stroke-opacity="0.65" stroke-width="0.7"/>
<circle cx="676.80" cy="18.30" r="1.80" fill="#00008b" fill-opacity="0.55" stroke="#00008b" stroke-opacity="0.65" stroke-width="0.7"/>
<circle cx="676.80" cy="34.20" r="1.80" fill="#00008b" fill-opacity="0.55" stroke="#00008b" stroke-opacity="0.65" stroke-width="0.7"/>
<circle cx="676.80" cy="45.10" r="1.80" fill="#00008b" fill-opacity="0.55" stroke="#00008b" stroke-opacity="0.65" stroke-width="0.7"/>
<circle cx="676.80" cy="45.90" r="1.80" fill="#00008b" fill-opacity="0.55" stroke="#00008b" stroke-opacity="0.65" stroke-width="0.7"/>
<circle cx="676.80" cy="52.60" r="1.80" fill="#00008b" fill-opacity="0.55" stroke="#00008b" stroke-opacity="0.65" stroke-width="0.7"/>
<circle cx="676.80" cy="57.20" r="1.80" fill="#00008b" fill-opacity="0.55" stroke="#00008b" stroke-opacity="0.65" stroke-width="0.7"/>
<circle cx="676.80" cy="58.00" r="1.80" fill="#00008b" fill-opacity="0.55" stroke="#00008b" stroke-opacity="0.65" stroke-width="0.7"/>
<circle cx="676.80" cy="62.60" r="1.80" fill="#00008b" fill-opacity="0.55" stroke="#00008b" stroke-opacity="0.65" stroke-width="0.7"/>
<circle cx="676.80" cy="68.40" r="1.80" fill="#00008b" fill-opacity="0.55" stroke="#00008b" stroke-opacity="0.65" stroke-width="0.7"/>
<circle cx="676.80" cy="71.90" r="1.80" fill="#00008b" fill-opacity="0.55" stroke="#00008b" stroke-opacity="0.65" stroke-width="0.7"/>
<circle cx="676.80" cy="72.70" r="1.80" fill="#00008b" fill-opacity="0.55" stroke="#00008b" stroke-opacity="0.65" stroke-width="0.7"/>
<circle cx="676.80" cy="73.90" r="1.80" fill="#00008b" fill-opacity="0.55" stroke="#00008b" stroke-opacity="0.65" stroke-width="0.7"/>
<circle cx="676.80" cy="79.50" r="1.80" fill="#00008b" fill-opacity="0.55" stroke="#00008b" stroke-opacity="0.65" stroke-width="0.7"/>
<circle cx="676.80" cy="80.30" r="1.80" fill="#00008b" fill-opacity="0.55" stroke="#00008b" stroke-opacity="0.65" stroke-width="0.7"/>
<circle cx="676.80" cy="83.00" r="1.80" fill="#00008b" fill-opacity="0.55" stroke="#00008b" stroke-opacity="0.65" stroke-width="0.7"/>
<circle cx="676.80" cy="85.60" r="1.80" fill="#00008b" fill-opacity="0.55" stroke="#00008b" stroke-opacity="0.65" stroke-width="0.7"/>
<circle cx="676.80" cy="88.40" r="1.80" fill="#00008b" fill-opacity="0.55" stroke="#00008b" stroke-opacity="0.65" stroke-width="0.7"/>
<circle cx="676.80" cy="89.20" r="1.80" fill="#00008b" fill-opacity="0.55" stroke="#00008b" stroke-opacity="0.65" stroke-width="0.7"/>
<circle cx="676.80" cy="90.80" r="1.80" fill="#00008b" fill-opacity="0.55" stroke="#00008b" stroke-opacity="0.65" stroke-width="0.7"/>
<polyline points="562.40,91.10 619.50,89.30 676.90,87.70" fill="none" stroke="#88cfee" stroke-width="1.05" stroke-linejoin="round"/>
<rect x="56.40" y="146.30" width="126.60" height="83.50" fill="none" stroke="#b4b4b4" stroke-width="1.6"/>
<line x1="54.10" y1="148.80" x2="56.40" y2="148.80" stroke="#b4b4b4" stroke-width="1.6"/>
<text x="40.86" y="151.70" font-size="6.64" text-anchor="start" font-weight="normal" fill="#0a0a0a" textLength="11.54" lengthAdjust="spacingAndGlyphs">0.28</text>
<line x1="54.10" y1="161.42" x2="56.40" y2="161.42" stroke="#b4b4b4" stroke-width="1.6"/>
<text x="40.86" y="164.31" font-size="6.64" text-anchor="start" font-weight="normal" fill="#0a0a0a" textLength="11.54" lengthAdjust="spacingAndGlyphs">0.26</text>
<line x1="54.10" y1="174.03" x2="56.40" y2="174.03" stroke="#b4b4b4" stroke-width="1.6"/>
<text x="40.86" y="176.93" font-size="6.64" text-anchor="start" font-weight="normal" fill="#0a0a0a" textLength="11.54" lengthAdjust="spacingAndGlyphs">0.24</text>
<line x1="54.10" y1="186.65" x2="56.40" y2="186.65" stroke="#b4b4b4" stroke-width="1.6"/>
<text x="40.86" y="189.55" font-size="6.64" text-anchor="start" font-weight="normal" fill="#0a0a0a" textLength="11.54" lengthAdjust="spacingAndGlyphs">0.22</text>
<line x1="54.10" y1="199.27" x2="56.40" y2="199.27" stroke="#b4b4b4" stroke-width="1.6"/>
<text x="40.86" y="202.16" font-size="6.64" text-anchor="start" font-weight="normal" fill="#0a0a0a" textLength="11.54" lengthAdjust="spacingAndGlyphs">0.20</text>
<line x1="54.10" y1="211.88" x2="56.40" y2="211.88" stroke="#b4b4b4" stroke-width="1.6"/>
<text x="40.86" y="214.78" font-size="6.64" text-anchor="start" font-weight="normal" fill="#0a0a0a" textLength="11.54" lengthAdjust="spacingAndGlyphs">0.18</text>
<line x1="54.10" y1="224.50" x2="56.40" y2="224.50" stroke="#b4b4b4" stroke-width="1.6"/>
<text x="40.86" y="227.40" font-size="6.64" text-anchor="start" font-weight="normal" fill="#0a0a0a" textLength="11.54" lengthAdjust="spacingAndGlyphs">0.16</text>
<line x1="73.60" y1="229.80" x2="73.60" y2="232.10" stroke="#b4b4b4" stroke-width="1.6"/>
<text x="71.95" y="237.90" font-size="6.64" text-anchor="start" font-weight="normal" fill="#0a0a0a" textLength="3.30" lengthAdjust="spacingAndGlyphs">3</text>
<line x1="96.62" y1="229.80" x2="96.62" y2="232.10" stroke="#b4b4b4" stroke-width="1.6"/>
<text x="94.98" y="237.90" font-size="6.64" text-anchor="start" font-weight="normal" fill="#0a0a0a" textLength="3.30" lengthAdjust="spacingAndGlyphs">4</text>
<line x1="119.65" y1="229.80" x2="119.65" y2="232.10" stroke="#b4b4b4" stroke-width="1.6"/>
<text x="118.00" y="237.90" font-size="6.64" text-anchor="start" font-weight="normal" fill="#0a0a0a" textLength="3.30" lengthAdjust="spacingAndGlyphs">5</text>
<line x1="142.67" y1="229.80" x2="142.67" y2="232.10" stroke="#b4b4b4" stroke-width="1.6"/>
<text x="141.03" y="237.90" font-size="6.64" text-anchor="start" font-weight="normal" fill="#0a0a0a" textLength="3.30" lengthAdjust="spacingAndGlyphs">6</text>
<line x1="165.70" y1="229.80" x2="165.70" y2="232.10" stroke="#b4b4b4" stroke-width="1.6"/>
<text x="164.05" y="237.90" font-size="6.64" text-anchor="start" font-weight="normal" fill="#0a0a0a" textLength="3.30" lengthAdjust="spacingAndGlyphs">7</text>
<text x="79.70" y="143.30" font-size="8.28" text-anchor="start" font-weight="normal" fill="#0a0a0a" textLength="76.80" lengthAdjust="spacingAndGlyphs">Reinforcement vs. COF</text>
<text x="99.20" y="245.30" font-size="5.90" fill="#0a0a0a" textLength="50.80" lengthAdjust="spacingAndGlyphs"><tspan font-weight="normal">Reinforcement</tspan><tspan font-weight="bold">(%)</tspan></text>
<text transform="translate(37.12,193.80) rotate(-90)" x="0" y="0" font-size="5.90" fill="#0a0a0a" textLength="10.80" lengthAdjust="spacingAndGlyphs"><tspan font-weight="normal">COF</tspan></text>
<circle cx="62.30" cy="150.80" r="1.90" fill="#ff0000" fill-opacity="0.55" stroke="#ff0000" stroke-opacity="0.65" stroke-width="0.7"/>
<circle cx="62.30" cy="152.60" r="1.90" fill="#ff0000" fill-opacity="0.55" stroke="#ff0000" stroke-opacity="0.65" stroke-width="0.7"/>
<circle cx="62.30" cy="154.20" r="1.90" fill="#ff0000" fill-opacity="0.55" stroke="#ff0000" stroke-opacity="0.65" stroke-width="0.7"/>
<circle cx="62.30" cy="155.25" r="1.90" fill="#ff0000" fill-opacity="0.55" stroke="#ff0000" stroke-opacity="0.65" stroke-width="0.7"/>
<circle cx="62.30" cy="156.30" r="1.90" fill="#ff0000" fill-opacity="0.55" stroke="#ff0000" stroke-opacity="0.65" stroke-width="0.7"/>
<circle cx="62.30" cy="157.35" r="1.90" fill="#ff0000" fill-opacity="0.55" stroke="#ff0000" stroke-opacity="0.65" stroke-width="0.7"/>
<circle cx="62.30" cy="158.40" r="1.90" fill="#ff0000" fill-opacity="0.55" stroke="#ff0000" stroke-opacity="0.65" stroke-width="0.7"/>
<circle cx="62.30" cy="160.20" r="1.90" fill="#ff0000" fill-opacity="0.55" stroke="#ff0000" stroke-opacity="0.65" stroke-width="0.7"/>
<circle cx="62.30" cy="188.50" r="1.90" fill="#ff0000" fill-opacity="0.55" stroke="#ff0000" stroke-opacity="0.65" stroke-width="0.7"/>
<circle cx="62.30" cy="189.92" r="1.90" fill="#ff0000" fill-opacity="0.55" stroke="#ff0000" stroke-opacity="0.65" stroke-width="0.7"/>
<circle cx="62.30" cy="191.33" r="1.90" fill="#ff0000" fill-opacity="0.55" stroke="#ff0000" stroke-opacity="0.65" stroke-width="0.7"/>
<circle cx="62.30" cy="192.75" r="1.90" fill="#ff0000" fill-opacity="0.55" stroke="#ff0000" stroke-opacity="0.65" stroke-width="0.7"/>
<circle cx="62.30" cy="194.17" r="1.90" fill="#ff0000" fill-opacity="0.55" stroke="#ff0000" stroke-opacity="0.65" stroke-width="0.7"/>
<circle cx="62.30" cy="195.58" r="1.90" fill="#ff0000" fill-opacity="0.55" stroke="#ff0000" stroke-opacity="0.65" stroke-width="0.7"/>
<circle cx="62.30" cy="197.00" r="1.90" fill="#ff0000" fill-opacity="0.55" stroke="#ff0000" stroke-opacity="0.65" stroke-width="0.7"/>
<circle cx="119.90" cy="152.60" r="1.90" fill="#ff0000" fill-opacity="0.55" stroke="#ff0000" stroke-opacity="0.65" stroke-width="0.7"/>
<circle cx="119.90" cy="154.50" r="1.90" fill="#ff0000" fill-opacity="0.55" stroke="#ff0000" stroke-opacity="0.65" stroke-width="0.7"/>
<circle cx="119.90" cy="156.20" r="1.90" fill="#ff0000" fill-opacity="0.55" stroke="#ff0000" stroke-opacity="0.65" stroke-width="0.7"/>
<circle cx="119.90" cy="157.63" r="1.90" fill="#ff0000" fill-opacity="0.55" stroke="#ff0000" stroke-opacity="0.65" stroke-width="0.7"/>
<circle cx="119.90" cy="159.07" r="1.90" fill="#ff0000" fill-opacity="0.55" stroke="#ff0000" stroke-opacity="0.65" stroke-width="0.7"/>
<circle cx="119.90" cy="160.50" r="1.90" fill="#ff0000" fill-opacity="0.55" stroke="#ff0000" stroke-opacity="0.65" stroke-width="0.7"/>
<circle cx="119.90" cy="162.00" r="1.90" fill="#ff0000" fill-opacity="0.55" stroke="#ff0000" stroke-opacity="0.65" stroke-width="0.7"/>
<circle cx="119.90" cy="194.80" r="1.90" fill="#ff0000" fill-opacity="0.55" stroke="#ff0000" stroke-opacity="0.65" stroke-width="0.7"/>
<circle cx="119.90" cy="196.40" r="1.90" fill="#ff0000" fill-opacity="0.55" stroke="#ff0000" stroke-opacity="0.65" stroke-width="0.7"/>
<circle cx="119.90" cy="198.00" r="1.90" fill="#ff0000" fill-opacity="0.55" stroke="#ff0000" stroke-opacity="0.65" stroke-width="0.7"/>
<circle cx="119.90" cy="199.60" r="1.90" fill="#ff0000" fill-opacity="0.55" stroke="#ff0000" stroke-opacity="0.65" stroke-width="0.7"/>
<circle cx="119.90" cy="201.20" r="1.90" fill="#ff0000" fill-opacity="0.55" stroke="#ff0000" stroke-opacity="0.65" stroke-width="0.7"/>
<circle cx="119.90" cy="202.80" r="1.90" fill="#ff0000" fill-opacity="0.55" stroke="#ff0000" stroke-opacity="0.65" stroke-width="0.7"/>
<circle cx="119.90" cy="204.40" r="1.90" fill="#ff0000" fill-opacity="0.55" stroke="#ff0000" stroke-opacity="0.65" stroke-width="0.7"/>
<circle cx="119.90" cy="206.00" r="1.90" fill="#ff0000" fill-opacity="0.55" stroke="#ff0000" stroke-opacity="0.65" stroke-width="0.7"/>
<circle cx="176.90" cy="178.10" r="1.90" fill="#ff0000" fill-opacity="0.55" stroke="#ff0000" stroke-opacity="0.65" stroke-width="0.7"/>
<circle cx="176.90" cy="180.00" r="1.90" fill="#ff0000" fill-opacity="0.55" stroke="#ff0000" stroke-opacity="0.65" stroke-width="0.7"/>
<circle cx="176.90" cy="181.60" r="1.90" fill="#ff0000" fill-opacity="0.55" stroke="#ff0000" stroke-opacity="0.65" stroke-width="0.7"/>
<circle cx="176.90" cy="182.93" r="1.90" fill="#ff0000" fill-opacity="0.55" stroke="#ff0000" stroke-opacity="0.65" stroke-width="0.7"/>
<circle cx="176.90" cy="184.27" r="1.90" fill="#ff0000" fill-opacity="0.55" stroke="#ff0000" stroke-opacity="0.65" stroke-width="0.7"/>
<circle cx="176.90" cy="185.60" r="1.90" fill="#ff0000" fill-opacity="0.55" stroke="#ff0000" stroke-opacity="0.65" stroke-width="0.7"/>
<circle cx="176.90" cy="187.00" r="1.90" fill="#ff0000" fill-opacity="0.55" stroke="#ff0000" stroke-opacity="0.65" stroke-width="0.7"/>
<circle cx="176.90" cy="211.50" r="1.90" fill="#ff0000" fill-opacity="0.55" stroke="#ff0000" stroke-opacity="0.65" stroke-width="0.7"/>
<circle cx="176.90" cy="213.50" r="1.90" fill="#ff0000" fill-opacity="0.55" stroke="#ff0000" stroke-opacity="0.65" stroke-width="0.7"/>
<circle cx="176.90" cy="215.30" r="1.90" fill="#ff0000" fill-opacity="0.55" stroke="#ff0000" stroke-opacity="0.65" stroke-width="0.7"/>
<circle cx="176.90" cy="216.66" r="1.90" fill="#ff0000" fill-opacity="0.55" stroke="#ff0000" stroke-opacity="0.65" stroke-width="0.7"/>
<circle cx="176.90" cy="218.03" r="1.90" fill="#ff0000" fill-opacity="0.55" stroke="#ff0000" stroke-opacity="0.65" stroke-width="0.7"/>
<circle cx="176.90" cy="219.39" r="1.90" fill="#ff0000" fill-opacity="0.55" stroke="#ff0000" stroke-opacity="0.65" stroke-width="0.7"/>
<circle cx="176.90" cy="220.75" r="1.90" fill="#ff0000" fill-opacity="0.55" stroke="#ff0000" stroke-opacity="0.65" stroke-width="0.7"/>
<circle cx="176.90" cy="222.11" r="1.90" fill="#ff0000" fill-opacity="0.55" stroke="#ff0000" stroke-opacity="0.65" stroke-width="0.7"/>
<circle cx="176.90" cy="223.47" r="1.90" fill="#ff0000" fill-opacity="0.55" stroke="#ff0000" stroke-opacity="0.65" stroke-width="0.7"/>
<circle cx="176.90" cy="224.84" r="1.90" fill="#ff0000" fill-opacity="0.55" stroke="#ff0000" stroke-opacity="0.65" stroke-width="0.7"/>
<circle cx="176.90" cy="226.20" r="1.90" fill="#ff0000" fill-opacity="0.55" stroke="#ff0000" stroke-opacity="0.65" stroke-width="0.7"/>
<polyline points="62.10,156.50 119.90,205.80 176.90,223.50" fill="none" stroke="#ff9326" stroke-width="1.1" stroke-linejoin="round"/>
<rect x="221.50" y="147.50" width="129.30" height="86.00" fill="none" stroke="#5f5f5f" stroke-width="1.0"/>
<line x1="219.20" y1="150.50" x2="221.50" y2="150.50" stroke="#5f5f5f" stroke-width="1.0"/>
<text x="204.66" y="153.48" font-size="6.87" text-anchor="start" font-weight="normal" fill="#0a0a0a" textLength="11.94" lengthAdjust="spacingAndGlyphs">0.28</text>
<line x1="219.20" y1="163.43" x2="221.50" y2="163.43" stroke="#5f5f5f" stroke-width="1.0"/>
<text x="204.66" y="166.41" font-size="6.87" text-anchor="start" font-weight="normal" fill="#0a0a0a" textLength="11.94" lengthAdjust="spacingAndGlyphs">0.26</text>
<line x1="219.20" y1="176.37" x2="221.50" y2="176.37" stroke="#5f5f5f" stroke-width="1.0"/>
<text x="204.66" y="179.35" font-size="6.87" text-anchor="start" font-weight="normal" fill="#0a0a0a" textLength="11.94" lengthAdjust="spacingAndGlyphs">0.24</text>
<line x1="219.20" y1="189.30" x2="221.50" y2="189.30" stroke="#5f5f5f" stroke-width="1.0"/>
<text x="204.66" y="192.28" font-size="6.87" text-anchor="start" font-weight="normal" fill="#0a0a0a" textLength="11.94" lengthAdjust="spacingAndGlyphs">0.22</text>
<line x1="219.20" y1="202.23" x2="221.50" y2="202.23" stroke="#5f5f5f" stroke-width="1.0"/>
<text x="204.66" y="205.21" font-size="6.87" text-anchor="start" font-weight="normal" fill="#0a0a0a" textLength="11.94" lengthAdjust="spacingAndGlyphs">0.20</text>
<line x1="219.20" y1="215.17" x2="221.50" y2="215.17" stroke="#5f5f5f" stroke-width="1.0"/>
<text x="204.66" y="218.15" font-size="6.87" text-anchor="start" font-weight="normal" fill="#0a0a0a" textLength="11.94" lengthAdjust="spacingAndGlyphs">0.18</text>
<line x1="219.20" y1="228.10" x2="221.50" y2="228.10" stroke="#5f5f5f" stroke-width="1.0"/>
<text x="204.66" y="231.08" font-size="6.87" text-anchor="start" font-weight="normal" fill="#0a0a0a" textLength="11.94" lengthAdjust="spacingAndGlyphs">0.16</text>
<line x1="227.00" y1="233.50" x2="227.00" y2="235.80" stroke="#5f5f5f" stroke-width="1.0"/>
<text x="223.59" y="241.80" font-size="6.87" text-anchor="start" font-weight="normal" fill="#0a0a0a" textLength="6.82" lengthAdjust="spacingAndGlyphs">10</text>
<line x1="256.50" y1="233.50" x2="256.50" y2="235.80" stroke="#5f5f5f" stroke-width="1.0"/>
<text x="253.09" y="241.80" font-size="6.87" text-anchor="start" font-weight="normal" fill="#0a0a0a" textLength="6.82" lengthAdjust="spacingAndGlyphs">15</text>
<line x1="286.00" y1="233.50" x2="286.00" y2="235.80" stroke="#5f5f5f" stroke-width="1.0"/>
<text x="282.59" y="241.80" font-size="6.87" text-anchor="start" font-weight="normal" fill="#0a0a0a" textLength="6.82" lengthAdjust="spacingAndGlyphs">20</text>
<line x1="315.50" y1="233.50" x2="315.50" y2="235.80" stroke="#5f5f5f" stroke-width="1.0"/>
<text x="312.09" y="241.80" font-size="6.87" text-anchor="start" font-weight="normal" fill="#0a0a0a" textLength="6.82" lengthAdjust="spacingAndGlyphs">25</text>
<line x1="345.00" y1="233.50" x2="345.00" y2="235.80" stroke="#5f5f5f" stroke-width="1.0"/>
<text x="341.59" y="241.80" font-size="6.87" text-anchor="start" font-weight="normal" fill="#0a0a0a" textLength="6.82" lengthAdjust="spacingAndGlyphs">30</text>
<text x="262.60" y="144.50" font-size="8.28" text-anchor="start" font-weight="normal" fill="#0a0a0a" textLength="44.10" lengthAdjust="spacingAndGlyphs">Load vs. COF</text>
<text x="279.60" y="248.80" font-size="6.10" fill="#0a0a0a" textLength="23.50" lengthAdjust="spacingAndGlyphs"><tspan font-weight="normal">Load </tspan><tspan font-weight="bold">(N)</tspan></text>
<text transform="translate(200.52,196.40) rotate(-90)" x="0" y="0" font-size="5.90" fill="#0a0a0a" textLength="10.70" lengthAdjust="spacingAndGlyphs"><tspan font-weight="normal">COF</tspan></text>
<circle cx="226.90" cy="151.90" r="1.90" fill="#ff0000" fill-opacity="0.55" stroke="#ff0000" stroke-opacity="0.65" stroke-width="0.7"/>
<circle cx="226.90" cy="153.01" r="1.90" fill="#ff0000" fill-opacity="0.55" stroke="#ff0000" stroke-opacity="0.65" stroke-width="0.7"/>
<circle cx="226.90" cy="154.12" r="1.90" fill="#ff0000" fill-opacity="0.55" stroke="#ff0000" stroke-opacity="0.65" stroke-width="0.7"/>
<circle cx="226.90" cy="155.23" r="1.90" fill="#ff0000" fill-opacity="0.55" stroke="#ff0000" stroke-opacity="0.65" stroke-width="0.7"/>
<circle cx="226.90" cy="156.34" r="1.90" fill="#ff0000" fill-opacity="0.55" stroke="#ff0000" stroke-opacity="0.65" stroke-width="0.7"/>
<circle cx="226.90" cy="157.45" r="1.90" fill="#ff0000" fill-opacity="0.55" stroke="#ff0000" stroke-opacity="0.65" stroke-width="0.7"/>
<circle cx="226.90" cy="158.56" r="1.90" fill="#ff0000" fill-opacity="0.55" stroke="#ff0000" stroke-opacity="0.65" stroke-width="0.7"/>
<circle cx="226.90" cy="159.67" r="1.90" fill="#ff0000" fill-opacity="0.55" stroke="#ff0000" stroke-opacity="0.65" stroke-width="0.7"/>
<circle cx="226.90" cy="160.78" r="1.90" fill="#ff0000" fill-opacity="0.55" stroke="#ff0000" stroke-opacity="0.65" stroke-width="0.7"/>
<circle cx="226.90" cy="161.89" r="1.90" fill="#ff0000" fill-opacity="0.55" stroke="#ff0000" stroke-opacity="0.65" stroke-width="0.7"/>
<circle cx="226.90" cy="163.00" r="1.90" fill="#ff0000" fill-opacity="0.55" stroke="#ff0000" stroke-opacity="0.65" stroke-width="0.7"/>
<circle cx="226.90" cy="180.40" r="1.90" fill="#ff0000" fill-opacity="0.55" stroke="#ff0000" stroke-opacity="0.65" stroke-width="0.7"/>
<circle cx="226.90" cy="181.47" r="1.90" fill="#ff0000" fill-opacity="0.55" stroke="#ff0000" stroke-opacity="0.65" stroke-width="0.7"/>
<circle cx="226.90" cy="182.55" r="1.90" fill="#ff0000" fill-opacity="0.55" stroke="#ff0000" stroke-opacity="0.65" stroke-width="0.7"/>
<circle cx="226.90" cy="183.62" r="1.90" fill="#ff0000" fill-opacity="0.55" stroke="#ff0000" stroke-opacity="0.65" stroke-width="0.7"/>
<circle cx="226.90" cy="184.70" r="1.90" fill="#ff0000" fill-opacity="0.55" stroke="#ff0000" stroke-opacity="0.65" stroke-width="0.7"/>
<circle cx="226.90" cy="185.78" r="1.90" fill="#ff0000" fill-opacity="0.55" stroke="#ff0000" stroke-opacity="0.65" stroke-width="0.7"/>
<circle cx="226.90" cy="186.85" r="1.90" fill="#ff0000" fill-opacity="0.55" stroke="#ff0000" stroke-opacity="0.65" stroke-width="0.7"/>
<circle cx="226.90" cy="187.93" r="1.90" fill="#ff0000" fill-opacity="0.55" stroke="#ff0000" stroke-opacity="0.65" stroke-width="0.7"/>
<circle cx="226.90" cy="189.00" r="1.90" fill="#ff0000" fill-opacity="0.55" stroke="#ff0000" stroke-opacity="0.65" stroke-width="0.7"/>
<circle cx="286.10" cy="191.30" r="1.90" fill="#ff0000" fill-opacity="0.55" stroke="#ff0000" stroke-opacity="0.65" stroke-width="0.7"/>
<circle cx="286.10" cy="192.48" r="1.90" fill="#ff0000" fill-opacity="0.55" stroke="#ff0000" stroke-opacity="0.65" stroke-width="0.7"/>
<circle cx="286.10" cy="193.67" r="1.90" fill="#ff0000" fill-opacity="0.55" stroke="#ff0000" stroke-opacity="0.65" stroke-width="0.7"/>
<circle cx="286.10" cy="194.85" r="1.90" fill="#ff0000" fill-opacity="0.55" stroke="#ff0000" stroke-opacity="0.65" stroke-width="0.7"/>
<circle cx="286.10" cy="196.03" r="1.90" fill="#ff0000" fill-opacity="0.55" stroke="#ff0000" stroke-opacity="0.65" stroke-width="0.7"/>
<circle cx="286.10" cy="197.22" r="1.90" fill="#ff0000" fill-opacity="0.55" stroke="#ff0000" stroke-opacity="0.65" stroke-width="0.7"/>
<circle cx="286.10" cy="198.40" r="1.90" fill="#ff0000" fill-opacity="0.55" stroke="#ff0000" stroke-opacity="0.65" stroke-width="0.7"/>
<circle cx="286.10" cy="199.58" r="1.90" fill="#ff0000" fill-opacity="0.55" stroke="#ff0000" stroke-opacity="0.65" stroke-width="0.7"/>
<circle cx="286.10" cy="200.77" r="1.90" fill="#ff0000" fill-opacity="0.55" stroke="#ff0000" stroke-opacity="0.65" stroke-width="0.7"/>
<circle cx="286.10" cy="201.95" r="1.90" fill="#ff0000" fill-opacity="0.55" stroke="#ff0000" stroke-opacity="0.65" stroke-width="0.7"/>
<circle cx="286.10" cy="203.13" r="1.90" fill="#ff0000" fill-opacity="0.55" stroke="#ff0000" stroke-opacity="0.65" stroke-width="0.7"/>
<circle cx="286.10" cy="204.32" r="1.90" fill="#ff0000" fill-opacity="0.55" stroke="#ff0000" stroke-opacity="0.65" stroke-width="0.7"/>
<circle cx="286.10" cy="205.50" r="1.90" fill="#ff0000" fill-opacity="0.55" stroke="#ff0000" stroke-opacity="0.65" stroke-width="0.7"/>
<circle cx="286.10" cy="215.00" r="1.90" fill="#ff0000" fill-opacity="0.55" stroke="#ff0000" stroke-opacity="0.65" stroke-width="0.7"/>
<circle cx="286.10" cy="217.50" r="1.90" fill="#ff0000" fill-opacity="0.55" stroke="#ff0000" stroke-opacity="0.65" stroke-width="0.7"/>
<circle cx="286.10" cy="220.00" r="1.90" fill="#ff0000" fill-opacity="0.55" stroke="#ff0000" stroke-opacity="0.65" stroke-width="0.7"/>
<circle cx="286.10" cy="221.04" r="1.90" fill="#ff0000" fill-opacity="0.55" stroke="#ff0000" stroke-opacity="0.65" stroke-width="0.7"/>
<circle cx="286.10" cy="222.07" r="1.90" fill="#ff0000" fill-opacity="0.55" stroke="#ff0000" stroke-opacity="0.65" stroke-width="0.7"/>
<circle cx="286.10" cy="223.11" r="1.90" fill="#ff0000" fill-opacity="0.55" stroke="#ff0000" stroke-opacity="0.65" stroke-width="0.7"/>
<circle cx="286.10" cy="224.15" r="1.90" fill="#ff0000" fill-opacity="0.55" stroke="#ff0000" stroke-opacity="0.65" stroke-width="0.7"/>
<circle cx="286.10" cy="225.19" r="1.90" fill="#ff0000" fill-opacity="0.55" stroke="#ff0000" stroke-opacity="0.65" stroke-width="0.7"/>
<circle cx="286.10" cy="226.23" r="1.90" fill="#ff0000" fill-opacity="0.55" stroke="#ff0000" stroke-opacity="0.65" stroke-width="0.7"/>
<circle cx="286.10" cy="227.26" r="1.90" fill="#ff0000" fill-opacity="0.55" stroke="#ff0000" stroke-opacity="0.65" stroke-width="0.7"/>
<circle cx="286.10" cy="228.30" r="1.90" fill="#ff0000" fill-opacity="0.55" stroke="#ff0000" stroke-opacity="0.65" stroke-width="0.7"/>
<circle cx="344.90" cy="191.30" r="1.90" fill="#ff0000" fill-opacity="0.55" stroke="#ff0000" stroke-opacity="0.65" stroke-width="0.7"/>
<circle cx="344.90" cy="192.47" r="1.90" fill="#ff0000" fill-opacity="0.55" stroke="#ff0000" stroke-opacity="0.65" stroke-width="0.7"/>
<circle cx="344.90" cy="193.65" r="1.90" fill="#ff0000" fill-opacity="0.55" stroke="#ff0000" stroke-opacity="0.65" stroke-width="0.7"/>
<circle cx="344.90" cy="194.82" r="1.90" fill="#ff0000" fill-opacity="0.55" stroke="#ff0000" stroke-opacity="0.65" stroke-width="0.7"/>
<circle cx="344.90" cy="195.99" r="1.90" fill="#ff0000" fill-opacity="0.55" stroke="#ff0000" stroke-opacity="0.65" stroke-width="0.7"/>
<circle cx="344.90" cy="197.17" r="1.90" fill="#ff0000" fill-opacity="0.55" stroke="#ff0000" stroke-opacity="0.65" stroke-width="0.7"/>
<circle cx="344.90" cy="198.34" r="1.90" fill="#ff0000" fill-opacity="0.55" stroke="#ff0000" stroke-opacity="0.65" stroke-width="0.7"/>
<circle cx="344.90" cy="199.51" r="1.90" fill="#ff0000" fill-opacity="0.55" stroke="#ff0000" stroke-opacity="0.65" stroke-width="0.7"/>
<circle cx="344.90" cy="200.69" r="1.90" fill="#ff0000" fill-opacity="0.55" stroke="#ff0000" stroke-opacity="0.65" stroke-width="0.7"/>
<circle cx="344.90" cy="201.86" r="1.90" fill="#ff0000" fill-opacity="0.55" stroke="#ff0000" stroke-opacity="0.65" stroke-width="0.7"/>
<circle cx="344.90" cy="203.03" r="1.90" fill="#ff0000" fill-opacity="0.55" stroke="#ff0000" stroke-opacity="0.65" stroke-width="0.7"/>
<circle cx="344.90" cy="204.21" r="1.90" fill="#ff0000" fill-opacity="0.55" stroke="#ff0000" stroke-opacity="0.65" stroke-width="0.7"/>
<circle cx="344.90" cy="205.38" r="1.90" fill="#ff0000" fill-opacity="0.55" stroke="#ff0000" stroke-opacity="0.65" stroke-width="0.7"/>
<circle cx="344.90" cy="206.55" r="1.90" fill="#ff0000" fill-opacity="0.55" stroke="#ff0000" stroke-opacity="0.65" stroke-width="0.7"/>
<circle cx="344.90" cy="207.73" r="1.90" fill="#ff0000" fill-opacity="0.55" stroke="#ff0000" stroke-opacity="0.65" stroke-width="0.7"/>
<circle cx="344.90" cy="208.90" r="1.90" fill="#ff0000" fill-opacity="0.55" stroke="#ff0000" stroke-opacity="0.65" stroke-width="0.7"/>
<circle cx="344.90" cy="221.00" r="1.90" fill="#ff0000" fill-opacity="0.55" stroke="#ff0000" stroke-opacity="0.65" stroke-width="0.7"/>
<circle cx="344.90" cy="222.14" r="1.90" fill="#ff0000" fill-opacity="0.55" stroke="#ff0000" stroke-opacity="0.65" stroke-width="0.7"/>
<circle cx="344.90" cy="223.29" r="1.90" fill="#ff0000" fill-opacity="0.55" stroke="#ff0000" stroke-opacity="0.65" stroke-width="0.7"/>
<circle cx="344.90" cy="224.43" r="1.90" fill="#ff0000" fill-opacity="0.55" stroke="#ff0000" stroke-opacity="0.65" stroke-width="0.7"/>
<circle cx="344.90" cy="225.57" r="1.90" fill="#ff0000" fill-opacity="0.55" stroke="#ff0000" stroke-opacity="0.65" stroke-width="0.7"/>
<circle cx="344.90" cy="226.71" r="1.90" fill="#ff0000" fill-opacity="0.55" stroke="#ff0000" stroke-opacity="0.65" stroke-width="0.7"/>
<circle cx="344.90" cy="227.86" r="1.90" fill="#ff0000" fill-opacity="0.55" stroke="#ff0000" stroke-opacity="0.65" stroke-width="0.7"/>
<circle cx="344.90" cy="229.00" r="1.90" fill="#ff0000" fill-opacity="0.55" stroke="#ff0000" stroke-opacity="0.65" stroke-width="0.7"/>
<polyline points="226.90,158.70 286.10,226.50 344.90,196.90" fill="none" stroke="#ff9326" stroke-width="1.1" stroke-linejoin="round"/>
<rect x="390.90" y="145.60" width="128.90" height="84.60" fill="none" stroke="#7a7a7a" stroke-width="1.2"/>
<line x1="388.60" y1="148.30" x2="390.90" y2="148.30" stroke="#7a7a7a" stroke-width="1.2"/>
<text x="374.66" y="151.28" font-size="6.87" text-anchor="start" font-weight="normal" fill="#0a0a0a" textLength="11.94" lengthAdjust="spacingAndGlyphs">0.28</text>
<line x1="388.60" y1="161.05" x2="390.90" y2="161.05" stroke="#7a7a7a" stroke-width="1.2"/>
<text x="374.66" y="164.03" font-size="6.87" text-anchor="start" font-weight="normal" fill="#0a0a0a" textLength="11.94" lengthAdjust="spacingAndGlyphs">0.26</text>
<line x1="388.60" y1="173.80" x2="390.90" y2="173.80" stroke="#7a7a7a" stroke-width="1.2"/>
<text x="374.66" y="176.78" font-size="6.87" text-anchor="start" font-weight="normal" fill="#0a0a0a" textLength="11.94" lengthAdjust="spacingAndGlyphs">0.24</text>
<line x1="388.60" y1="186.55" x2="390.90" y2="186.55" stroke="#7a7a7a" stroke-width="1.2"/>
<text x="374.66" y="189.53" font-size="6.87" text-anchor="start" font-weight="normal" fill="#0a0a0a" textLength="11.94" lengthAdjust="spacingAndGlyphs">0.22</text>
<line x1="388.60" y1="199.30" x2="390.90" y2="199.30" stroke="#7a7a7a" stroke-width="1.2"/>
<text x="374.66" y="202.28" font-size="6.87" text-anchor="start" font-weight="normal" fill="#0a0a0a" textLength="11.94" lengthAdjust="spacingAndGlyphs">0.20</text>
<line x1="388.60" y1="212.05" x2="390.90" y2="212.05" stroke="#7a7a7a" stroke-width="1.2"/>
<text x="374.66" y="215.03" font-size="6.87" text-anchor="start" font-weight="normal" fill="#0a0a0a" textLength="11.94" lengthAdjust="spacingAndGlyphs">0.18</text>
<line x1="388.60" y1="224.80" x2="390.90" y2="224.80" stroke="#7a7a7a" stroke-width="1.2"/>
<text x="374.66" y="227.78" font-size="6.87" text-anchor="start" font-weight="normal" fill="#0a0a0a" textLength="11.94" lengthAdjust="spacingAndGlyphs">0.16</text>
<line x1="392.50" y1="230.20" x2="392.50" y2="232.50" stroke="#7a7a7a" stroke-width="1.2"/>
<text x="388.24" y="238.90" font-size="6.87" text-anchor="start" font-weight="normal" fill="#0a0a0a" textLength="8.53" lengthAdjust="spacingAndGlyphs">0.8</text>
<line x1="420.60" y1="230.20" x2="420.60" y2="232.50" stroke="#7a7a7a" stroke-width="1.2"/>
<text x="416.34" y="238.90" font-size="6.87" text-anchor="start" font-weight="normal" fill="#0a0a0a" textLength="8.53" lengthAdjust="spacingAndGlyphs">1.0</text>
<line x1="448.40" y1="230.20" x2="448.40" y2="232.50" stroke="#7a7a7a" stroke-width="1.2"/>
<text x="444.14" y="238.90" font-size="6.87" text-anchor="start" font-weight="normal" fill="#0a0a0a" textLength="8.53" lengthAdjust="spacingAndGlyphs">1.2</text>
<line x1="476.40" y1="230.20" x2="476.40" y2="232.50" stroke="#7a7a7a" stroke-width="1.2"/>
<text x="472.14" y="238.90" font-size="6.87" text-anchor="start" font-weight="normal" fill="#0a0a0a" textLength="8.53" lengthAdjust="spacingAndGlyphs">1.4</text>
<line x1="504.50" y1="230.20" x2="504.50" y2="232.50" stroke="#7a7a7a" stroke-width="1.2"/>
<text x="500.24" y="238.90" font-size="6.87" text-anchor="start" font-weight="normal" fill="#0a0a0a" textLength="8.53" lengthAdjust="spacingAndGlyphs">1.6</text>
<text x="426.40" y="142.80" font-size="8.51" text-anchor="start" font-weight="normal" fill="#0a0a0a" textLength="55.30" lengthAdjust="spacingAndGlyphs">Velocity vs. COF</text>
<text x="444.50" y="246.50" font-size="6.10" fill="#0a0a0a" textLength="38.80" lengthAdjust="spacingAndGlyphs"><tspan font-weight="normal">Velocity </tspan><tspan font-weight="bold">(m/s)</tspan></text>
<text transform="translate(369.62,193.60) rotate(-90)" x="0" y="0" font-size="5.90" fill="#0a0a0a" textLength="11.60" lengthAdjust="spacingAndGlyphs"><tspan font-weight="normal">COF</tspan></text>
<circle cx="396.50" cy="149.20" r="1.90" fill="#ff0000" fill-opacity="0.55" stroke="#ff0000" stroke-opacity="0.65" stroke-width="0.7"/>
<circle cx="396.50" cy="151.30" r="1.90" fill="#ff0000" fill-opacity="0.55" stroke="#ff0000" stroke-opacity="0.65" stroke-width="0.7"/>
<circle cx="396.50" cy="153.30" r="1.90" fill="#ff0000" fill-opacity="0.55" stroke="#ff0000" stroke-opacity="0.65" stroke-width="0.7"/>
<circle cx="396.50" cy="154.40" r="1.90" fill="#ff0000" fill-opacity="0.55" stroke="#ff0000" stroke-opacity="0.65" stroke-width="0.7"/>
<circle cx="396.50" cy="155.40" r="1.90" fill="#ff0000" fill-opacity="0.55" stroke="#ff0000" stroke-opacity="0.65" stroke-width="0.7"/>
<circle cx="396.50" cy="178.00" r="1.90" fill="#ff0000" fill-opacity="0.55" stroke="#ff0000" stroke-opacity="0.65" stroke-width="0.7"/>
<circle cx="396.50" cy="180.50" r="1.90" fill="#ff0000" fill-opacity="0.55" stroke="#ff0000" stroke-opacity="0.65" stroke-width="0.7"/>
<circle cx="396.50" cy="189.30" r="1.90" fill="#ff0000" fill-opacity="0.55" stroke="#ff0000" stroke-opacity="0.65" stroke-width="0.7"/>
<circle cx="396.50" cy="190.38" r="1.90" fill="#ff0000" fill-opacity="0.55" stroke="#ff0000" stroke-opacity="0.65" stroke-width="0.7"/>
<circle cx="396.50" cy="191.47" r="1.90" fill="#ff0000" fill-opacity="0.55" stroke="#ff0000" stroke-opacity="0.65" stroke-width="0.7"/>
<circle cx="396.50" cy="192.55" r="1.90" fill="#ff0000" fill-opacity="0.55" stroke="#ff0000" stroke-opacity="0.65" stroke-width="0.7"/>
<circle cx="396.50" cy="193.64" r="1.90" fill="#ff0000" fill-opacity="0.55" stroke="#ff0000" stroke-opacity="0.65" stroke-width="0.7"/>
<circle cx="396.50" cy="194.72" r="1.90" fill="#ff0000" fill-opacity="0.55" stroke="#ff0000" stroke-opacity="0.65" stroke-width="0.7"/>
<circle cx="396.50" cy="195.81" r="1.90" fill="#ff0000" fill-opacity="0.55" stroke="#ff0000" stroke-opacity="0.65" stroke-width="0.7"/>
<circle cx="396.50" cy="196.89" r="1.90" fill="#ff0000" fill-opacity="0.55" stroke="#ff0000" stroke-opacity="0.65" stroke-width="0.7"/>
<circle cx="396.50" cy="197.98" r="1.90" fill="#ff0000" fill-opacity="0.55" stroke="#ff0000" stroke-opacity="0.65" stroke-width="0.7"/>
<circle cx="396.50" cy="199.06" r="1.90" fill="#ff0000" fill-opacity="0.55" stroke="#ff0000" stroke-opacity="0.65" stroke-width="0.7"/>
<circle cx="396.50" cy="200.15" r="1.90" fill="#ff0000" fill-opacity="0.55" stroke="#ff0000" stroke-opacity="0.65" stroke-width="0.7"/>
<circle cx="396.50" cy="201.23" r="1.90" fill="#ff0000" fill-opacity="0.55" stroke="#ff0000" stroke-opacity="0.65" stroke-width="0.7"/>
<circle cx="396.50" cy="202.32" r="1.90" fill="#ff0000" fill-opacity="0.55" stroke="#ff0000" stroke-opacity="0.65" stroke-width="0.7"/>
<circle cx="396.50" cy="203.40" r="1.90" fill="#ff0000" fill-opacity="0.55" stroke="#ff0000" stroke-opacity="0.65" stroke-width="0.7"/>
<circle cx="396.50" cy="212.20" r="1.90" fill="#ff0000" fill-opacity="0.55" stroke="#ff0000" stroke-opacity="0.65" stroke-width="0.7"/>
<circle cx="396.50" cy="214.50" r="1.90" fill="#ff0000" fill-opacity="0.55" stroke="#ff0000" stroke-opacity="0.65" stroke-width="0.7"/>
<circle cx="396.50" cy="216.60" r="1.90" fill="#ff0000" fill-opacity="0.55" stroke="#ff0000" stroke-opacity="0.65" stroke-width="0.7"/>
<circle cx="396.50" cy="218.50" r="1.90" fill="#ff0000" fill-opacity="0.55" stroke="#ff0000" stroke-opacity="0.65" stroke-width="0.7"/>
<circle cx="396.50" cy="219.60" r="1.90" fill="#ff0000" fill-opacity="0.55" stroke="#ff0000" stroke-opacity="0.65" stroke-width="0.7"/>
<circle cx="396.50" cy="220.60" r="1.90" fill="#ff0000" fill-opacity="0.55" stroke="#ff0000" stroke-opacity="0.65" stroke-width="0.7"/>
<circle cx="396.50" cy="222.60" r="1.90" fill="#ff0000" fill-opacity="0.55" stroke="#ff0000" stroke-opacity="0.65" stroke-width="0.7"/>
<circle cx="396.50" cy="224.20" r="1.90" fill="#ff0000" fill-opacity="0.55" stroke="#ff0000" stroke-opacity="0.65" stroke-width="0.7"/>
<circle cx="455.40" cy="152.20" r="1.90" fill="#ff0000" fill-opacity="0.55" stroke="#ff0000" stroke-opacity="0.65" stroke-width="0.7"/>
<circle cx="455.40" cy="155.50" r="1.90" fill="#ff0000" fill-opacity="0.55" stroke="#ff0000" stroke-opacity="0.65" stroke-width="0.7"/>
<circle cx="455.40" cy="156.50" r="1.90" fill="#ff0000" fill-opacity="0.55" stroke="#ff0000" stroke-opacity="0.65" stroke-width="0.7"/>
<circle cx="455.40" cy="157.50" r="1.90" fill="#ff0000" fill-opacity="0.55" stroke="#ff0000" stroke-opacity="0.65" stroke-width="0.7"/>
<circle cx="455.40" cy="158.50" r="1.90" fill="#ff0000" fill-opacity="0.55" stroke="#ff0000" stroke-opacity="0.65" stroke-width="0.7"/>
<circle cx="455.40" cy="159.50" r="1.90" fill="#ff0000" fill-opacity="0.55" stroke="#ff0000" stroke-opacity="0.65" stroke-width="0.7"/>
<circle cx="455.40" cy="178.60" r="1.90" fill="#ff0000" fill-opacity="0.55" stroke="#ff0000" stroke-opacity="0.65" stroke-width="0.7"/>
<circle cx="455.40" cy="180.40" r="1.90" fill="#ff0000" fill-opacity="0.55" stroke="#ff0000" stroke-opacity="0.65" stroke-width="0.7"/>
<circle cx="455.40" cy="182.60" r="1.90" fill="#ff0000" fill-opacity="0.55" stroke="#ff0000" stroke-opacity="0.65" stroke-width="0.7"/>
<circle cx="455.40" cy="184.30" r="1.90" fill="#ff0000" fill-opacity="0.55" stroke="#ff0000" stroke-opacity="0.65" stroke-width="0.7"/>
<circle cx="455.40" cy="190.20" r="1.90" fill="#ff0000" fill-opacity="0.55" stroke="#ff0000" stroke-opacity="0.65" stroke-width="0.7"/>
<circle cx="455.40" cy="191.36" r="1.90" fill="#ff0000" fill-opacity="0.55" stroke="#ff0000" stroke-opacity="0.65" stroke-width="0.7"/>
<circle cx="455.40" cy="192.52" r="1.90" fill="#ff0000" fill-opacity="0.55" stroke="#ff0000" stroke-opacity="0.65" stroke-width="0.7"/>
<circle cx="455.40" cy="193.68" r="1.90" fill="#ff0000" fill-opacity="0.55" stroke="#ff0000" stroke-opacity="0.65" stroke-width="0.7"/>
<circle cx="455.40" cy="194.85" r="1.90" fill="#ff0000" fill-opacity="0.55" stroke="#ff0000" stroke-opacity="0.65" stroke-width="0.7"/>
<circle cx="455.40" cy="196.01" r="1.90" fill="#ff0000" fill-opacity="0.55" stroke="#ff0000" stroke-opacity="0.65" stroke-width="0.7"/>
<circle cx="455.40" cy="197.17" r="1.90" fill="#ff0000" fill-opacity="0.55" stroke="#ff0000" stroke-opacity="0.65" stroke-width="0.7"/>
<circle cx="455.40" cy="198.33" r="1.90" fill="#ff0000" fill-opacity="0.55" stroke="#ff0000" stroke-opacity="0.65" stroke-width="0.7"/>
<circle cx="455.40" cy="199.49" r="1.90" fill="#ff0000" fill-opacity="0.55" stroke="#ff0000" stroke-opacity="0.65" stroke-width="0.7"/>
<circle cx="455.40" cy="200.65" r="1.90" fill="#ff0000" fill-opacity="0.55" stroke="#ff0000" stroke-opacity="0.65" stroke-width="0.7"/>
<circle cx="455.40" cy="201.82" r="1.90" fill="#ff0000" fill-opacity="0.55" stroke="#ff0000" stroke-opacity="0.65" stroke-width="0.7"/>
<circle cx="455.40" cy="202.98" r="1.90" fill="#ff0000" fill-opacity="0.55" stroke="#ff0000" stroke-opacity="0.65" stroke-width="0.7"/>
<circle cx="455.40" cy="204.14" r="1.90" fill="#ff0000" fill-opacity="0.55" stroke="#ff0000" stroke-opacity="0.65" stroke-width="0.7"/>
<circle cx="455.40" cy="205.30" r="1.90" fill="#ff0000" fill-opacity="0.55" stroke="#ff0000" stroke-opacity="0.65" stroke-width="0.7"/>
<circle cx="455.40" cy="216.60" r="1.90" fill="#ff0000" fill-opacity="0.55" stroke="#ff0000" stroke-opacity="0.65" stroke-width="0.7"/>
<circle cx="455.40" cy="219.00" r="1.90" fill="#ff0000" fill-opacity="0.55" stroke="#ff0000" stroke-opacity="0.65" stroke-width="0.7"/>
<circle cx="455.40" cy="221.50" r="1.90" fill="#ff0000" fill-opacity="0.55" stroke="#ff0000" stroke-opacity="0.65" stroke-width="0.7"/>
<circle cx="455.40" cy="224.00" r="1.90" fill="#ff0000" fill-opacity="0.55" stroke="#ff0000" stroke-opacity="0.65" stroke-width="0.7"/>
<circle cx="455.40" cy="225.80" r="1.90" fill="#ff0000" fill-opacity="0.55" stroke="#ff0000" stroke-opacity="0.65" stroke-width="0.7"/>
<circle cx="514.40" cy="153.80" r="1.90" fill="#ff0000" fill-opacity="0.55" stroke="#ff0000" stroke-opacity="0.65" stroke-width="0.7"/>
<circle cx="514.40" cy="155.80" r="1.90" fill="#ff0000" fill-opacity="0.55" stroke="#ff0000" stroke-opacity="0.65" stroke-width="0.7"/>
<circle cx="514.40" cy="156.71" r="1.90" fill="#ff0000" fill-opacity="0.55" stroke="#ff0000" stroke-opacity="0.65" stroke-width="0.7"/>
<circle cx="514.40" cy="157.63" r="1.90" fill="#ff0000" fill-opacity="0.55" stroke="#ff0000" stroke-opacity="0.65" stroke-width="0.7"/>
<circle cx="514.40" cy="158.54" r="1.90" fill="#ff0000" fill-opacity="0.55" stroke="#ff0000" stroke-opacity="0.65" stroke-width="0.7"/>
<circle cx="514.40" cy="159.46" r="1.90" fill="#ff0000" fill-opacity="0.55" stroke="#ff0000" stroke-opacity="0.65" stroke-width="0.7"/>
<circle cx="514.40" cy="160.37" r="1.90" fill="#ff0000" fill-opacity="0.55" stroke="#ff0000" stroke-opacity="0.65" stroke-width="0.7"/>
<circle cx="514.40" cy="161.29" r="1.90" fill="#ff0000" fill-opacity="0.55" stroke="#ff0000" stroke-opacity="0.65" stroke-width="0.7"/>
<circle cx="514.40" cy="162.20" r="1.90" fill="#ff0000" fill-opacity="0.55" stroke="#ff0000" stroke-opacity="0.65" stroke-width="0.7"/>
<circle cx="514.40" cy="181.00" r="1.90" fill="#ff0000" fill-opacity="0.55" stroke="#ff0000" stroke-opacity="0.65" stroke-width="0.7"/>
<circle cx="514.40" cy="183.40" r="1.90" fill="#ff0000" fill-opacity="0.55" stroke="#ff0000" stroke-opacity="0.65" stroke-width="0.7"/>
<circle cx="514.40" cy="185.80" r="1.90" fill="#ff0000" fill-opacity="0.55" stroke="#ff0000" stroke-opacity="0.65" stroke-width="0.7"/>
<circle cx="514.40" cy="187.60" r="1.90" fill="#ff0000" fill-opacity="0.55" stroke="#ff0000" stroke-opacity="0.65" stroke-width="0.7"/>
<circle cx="514.40" cy="188.78" r="1.90" fill="#ff0000" fill-opacity="0.55" stroke="#ff0000" stroke-opacity="0.65" stroke-width="0.7"/>
<circle cx="514.40" cy="189.95" r="1.90" fill="#ff0000" fill-opacity="0.55" stroke="#ff0000" stroke-opacity="0.65" stroke-width="0.7"/>
<circle cx="514.40" cy="191.12" r="1.90" fill="#ff0000" fill-opacity="0.55" stroke="#ff0000" stroke-opacity="0.65" stroke-width="0.7"/>
<circle cx="514.40" cy="192.30" r="1.90" fill="#ff0000" fill-opacity="0.55" stroke="#ff0000" stroke-opacity="0.65" stroke-width="0.7"/>
<circle cx="514.40" cy="193.47" r="1.90" fill="#ff0000" fill-opacity="0.55" stroke="#ff0000" stroke-opacity="0.65" stroke-width="0.7"/>
<circle cx="514.40" cy="194.65" r="1.90" fill="#ff0000" fill-opacity="0.55" stroke="#ff0000" stroke-opacity="0.65" stroke-width="0.7"/>
<circle cx="514.40" cy="195.82" r="1.90" fill="#ff0000" fill-opacity="0.55" stroke="#ff0000" stroke-opacity="0.65" stroke-width="0.7"/>
<circle cx="514.40" cy="197.00" r="1.90" fill="#ff0000" fill-opacity="0.55" stroke="#ff0000" stroke-opacity="0.65" stroke-width="0.7"/>
<circle cx="514.40" cy="199.00" r="1.90" fill="#ff0000" fill-opacity="0.55" stroke="#ff0000" stroke-opacity="0.65" stroke-width="0.7"/>
<circle cx="514.40" cy="201.50" r="1.90" fill="#ff0000" fill-opacity="0.55" stroke="#ff0000" stroke-opacity="0.65" stroke-width="0.7"/>
<circle cx="514.40" cy="204.00" r="1.90" fill="#ff0000" fill-opacity="0.55" stroke="#ff0000" stroke-opacity="0.65" stroke-width="0.7"/>
<circle cx="514.40" cy="206.00" r="1.90" fill="#ff0000" fill-opacity="0.55" stroke="#ff0000" stroke-opacity="0.65" stroke-width="0.7"/>
<circle cx="514.40" cy="216.20" r="1.90" fill="#ff0000" fill-opacity="0.55" stroke="#ff0000" stroke-opacity="0.65" stroke-width="0.7"/>
<circle cx="514.40" cy="217.27" r="1.90" fill="#ff0000" fill-opacity="0.55" stroke="#ff0000" stroke-opacity="0.65" stroke-width="0.7"/>
<circle cx="514.40" cy="218.35" r="1.90" fill="#ff0000" fill-opacity="0.55" stroke="#ff0000" stroke-opacity="0.65" stroke-width="0.7"/>
<circle cx="514.40" cy="219.42" r="1.90" fill="#ff0000" fill-opacity="0.55" stroke="#ff0000" stroke-opacity="0.65" stroke-width="0.7"/>
<circle cx="514.40" cy="220.49" r="1.90" fill="#ff0000" fill-opacity="0.55" stroke="#ff0000" stroke-opacity="0.65" stroke-width="0.7"/>
<circle cx="514.40" cy="221.56" r="1.90" fill="#ff0000" fill-opacity="0.55" stroke="#ff0000" stroke-opacity="0.65" stroke-width="0.7"/>
<circle cx="514.40" cy="222.64" r="1.90" fill="#ff0000" fill-opacity="0.55" stroke="#ff0000" stroke-opacity="0.65" stroke-width="0.7"/>
<circle cx="514.40" cy="223.71" r="1.90" fill="#ff0000" fill-opacity="0.55" stroke="#ff0000" stroke-opacity="0.65" stroke-width="0.7"/>
<circle cx="514.40" cy="224.78" r="1.90" fill="#ff0000" fill-opacity="0.55" stroke="#ff0000" stroke-opacity="0.65" stroke-width="0.7"/>
<circle cx="514.40" cy="225.85" r="1.90" fill="#ff0000" fill-opacity="0.55" stroke="#ff0000" stroke-opacity="0.65" stroke-width="0.7"/>
<circle cx="514.40" cy="226.93" r="1.90" fill="#ff0000" fill-opacity="0.55" stroke="#ff0000" stroke-opacity="0.65" stroke-width="0.7"/>
<circle cx="514.40" cy="228.00" r="1.90" fill="#ff0000" fill-opacity="0.55" stroke="#ff0000" stroke-opacity="0.65" stroke-width="0.7"/>
<polyline points="396.50,155.30 455.50,200.00 514.50,201.90" fill="none" stroke="#ff9326" stroke-width="1.1" stroke-linejoin="round"/>
<rect x="553.60" y="149.00" width="126.00" height="83.20" fill="none" stroke="#8c8c8c" stroke-width="1.5"/>
<line x1="551.30" y1="151.70" x2="553.60" y2="151.70" stroke="#8c8c8c" stroke-width="1.5"/>
<text x="537.06" y="154.68" font-size="6.87" text-anchor="start" font-weight="normal" fill="#0a0a0a" textLength="11.94" lengthAdjust="spacingAndGlyphs">0.28</text>
<line x1="551.30" y1="164.35" x2="553.60" y2="164.35" stroke="#8c8c8c" stroke-width="1.5"/>
<text x="537.06" y="167.33" font-size="6.87" text-anchor="start" font-weight="normal" fill="#0a0a0a" textLength="11.94" lengthAdjust="spacingAndGlyphs">0.26</text>
<line x1="551.30" y1="177.00" x2="553.60" y2="177.00" stroke="#8c8c8c" stroke-width="1.5"/>
<text x="537.06" y="179.98" font-size="6.87" text-anchor="start" font-weight="normal" fill="#0a0a0a" textLength="11.94" lengthAdjust="spacingAndGlyphs">0.24</text>
<line x1="551.30" y1="189.65" x2="553.60" y2="189.65" stroke="#8c8c8c" stroke-width="1.5"/>
<text x="537.06" y="192.63" font-size="6.87" text-anchor="start" font-weight="normal" fill="#0a0a0a" textLength="11.94" lengthAdjust="spacingAndGlyphs">0.22</text>
<line x1="551.30" y1="202.30" x2="553.60" y2="202.30" stroke="#8c8c8c" stroke-width="1.5"/>
<text x="537.06" y="205.28" font-size="6.87" text-anchor="start" font-weight="normal" fill="#0a0a0a" textLength="11.94" lengthAdjust="spacingAndGlyphs">0.20</text>
<line x1="551.30" y1="214.95" x2="553.60" y2="214.95" stroke="#8c8c8c" stroke-width="1.5"/>
<text x="537.06" y="217.93" font-size="6.87" text-anchor="start" font-weight="normal" fill="#0a0a0a" textLength="11.94" lengthAdjust="spacingAndGlyphs">0.18</text>
<line x1="551.30" y1="227.60" x2="553.60" y2="227.60" stroke="#8c8c8c" stroke-width="1.5"/>
<text x="537.06" y="230.58" font-size="6.87" text-anchor="start" font-weight="normal" fill="#0a0a0a" textLength="11.94" lengthAdjust="spacingAndGlyphs">0.16</text>
<line x1="559.20" y1="232.20" x2="559.20" y2="234.50" stroke="#8c8c8c" stroke-width="1.5"/>
<text x="554.08" y="240.80" font-size="6.87" text-anchor="start" font-weight="normal" fill="#0a0a0a" textLength="10.24" lengthAdjust="spacingAndGlyphs">600</text>
<line x1="578.27" y1="232.20" x2="578.27" y2="234.50" stroke="#8c8c8c" stroke-width="1.5"/>
<text x="573.15" y="240.80" font-size="6.87" text-anchor="start" font-weight="normal" fill="#0a0a0a" textLength="10.24" lengthAdjust="spacingAndGlyphs">700</text>
<line x1="597.33" y1="232.20" x2="597.33" y2="234.50" stroke="#8c8c8c" stroke-width="1.5"/>
<text x="592.22" y="240.80" font-size="6.87" text-anchor="start" font-weight="normal" fill="#0a0a0a" textLength="10.24" lengthAdjust="spacingAndGlyphs">800</text>
<line x1="616.40" y1="232.20" x2="616.40" y2="234.50" stroke="#8c8c8c" stroke-width="1.5"/>
<text x="611.28" y="240.80" font-size="6.87" text-anchor="start" font-weight="normal" fill="#0a0a0a" textLength="10.24" lengthAdjust="spacingAndGlyphs">900</text>
<line x1="635.47" y1="232.20" x2="635.47" y2="234.50" stroke="#8c8c8c" stroke-width="1.5"/>
<text x="628.64" y="240.80" font-size="6.87" text-anchor="start" font-weight="normal" fill="#0a0a0a" textLength="13.65" lengthAdjust="spacingAndGlyphs">1000</text>
<line x1="654.53" y1="232.20" x2="654.53" y2="234.50" stroke="#8c8c8c" stroke-width="1.5"/>
<text x="647.94" y="240.80" font-size="6.87" text-anchor="start" font-weight="normal" fill="#0a0a0a" textLength="13.19" lengthAdjust="spacingAndGlyphs">1100</text>
<line x1="673.60" y1="232.20" x2="673.60" y2="234.50" stroke="#8c8c8c" stroke-width="1.5"/>
<text x="666.78" y="240.80" font-size="6.87" text-anchor="start" font-weight="normal" fill="#0a0a0a" textLength="13.65" lengthAdjust="spacingAndGlyphs">1200</text>
<text x="574.70" y="146.30" font-size="8.39" text-anchor="start" font-weight="normal" fill="#0a0a0a" textLength="80.80" lengthAdjust="spacingAndGlyphs">Sliding distance vs. COF</text>
<text x="593.80" y="248.70" font-size="6.10" fill="#0a0a0a" textLength="56.30" lengthAdjust="spacingAndGlyphs"><tspan font-weight="normal">Sliding distance </tspan><tspan font-weight="bold">(m)</tspan></text>
<text transform="translate(532.22,197.10) rotate(-90)" x="0" y="0" font-size="5.90" fill="#0a0a0a" textLength="11.10" lengthAdjust="spacingAndGlyphs"><tspan font-weight="normal">COF</tspan></text>
<circle cx="559.20" cy="158.60" r="1.90" fill="#ff0000" fill-opacity="0.55" stroke="#ff0000" stroke-opacity="0.65" stroke-width="0.7"/>
<circle cx="559.20" cy="159.55" r="1.90" fill="#ff0000" fill-opacity="0.55" stroke="#ff0000" stroke-opacity="0.65" stroke-width="0.7"/>
<circle cx="559.20" cy="160.50" r="1.90" fill="#ff0000" fill-opacity="0.55" stroke="#ff0000" stroke-opacity="0.65" stroke-width="0.7"/>
<circle cx="559.20" cy="161.45" r="1.90" fill="#ff0000" fill-opacity="0.55" stroke="#ff0000" stroke-opacity="0.65" stroke-width="0.7"/>
<circle cx="559.20" cy="162.40" r="1.90" fill="#ff0000" fill-opacity="0.55" stroke="#ff0000" stroke-opacity="0.65" stroke-width="0.7"/>
<circle cx="559.20" cy="163.35" r="1.90" fill="#ff0000" fill-opacity="0.55" stroke="#ff0000" stroke-opacity="0.65" stroke-width="0.7"/>
<circle cx="559.20" cy="164.30" r="1.90" fill="#ff0000" fill-opacity="0.55" stroke="#ff0000" stroke-opacity="0.65" stroke-width="0.7"/>
<circle cx="559.20" cy="183.20" r="1.90" fill="#ff0000" fill-opacity="0.55" stroke="#ff0000" stroke-opacity="0.65" stroke-width="0.7"/>
<circle cx="559.20" cy="185.60" r="1.90" fill="#ff0000" fill-opacity="0.55" stroke="#ff0000" stroke-opacity="0.65" stroke-width="0.7"/>
<circle cx="559.20" cy="187.60" r="1.90" fill="#ff0000" fill-opacity="0.55" stroke="#ff0000" stroke-opacity="0.65" stroke-width="0.7"/>
<circle cx="559.20" cy="189.20" r="1.90" fill="#ff0000" fill-opacity="0.55" stroke="#ff0000" stroke-opacity="0.65" stroke-width="0.7"/>
<circle cx="559.20" cy="194.80" r="1.90" fill="#ff0000" fill-opacity="0.55" stroke="#ff0000" stroke-opacity="0.65" stroke-width="0.7"/>
<circle cx="559.20" cy="195.95" r="1.90" fill="#ff0000" fill-opacity="0.55" stroke="#ff0000" stroke-opacity="0.65" stroke-width="0.7"/>
<circle cx="559.20" cy="197.11" r="1.90" fill="#ff0000" fill-opacity="0.55" stroke="#ff0000" stroke-opacity="0.65" stroke-width="0.7"/>
<circle cx="559.20" cy="198.26" r="1.90" fill="#ff0000" fill-opacity="0.55" stroke="#ff0000" stroke-opacity="0.65" stroke-width="0.7"/>
<circle cx="559.20" cy="199.42" r="1.90" fill="#ff0000" fill-opacity="0.55" stroke="#ff0000" stroke-opacity="0.65" stroke-width="0.7"/>
<circle cx="559.20" cy="200.57" r="1.90" fill="#ff0000" fill-opacity="0.55" stroke="#ff0000" stroke-opacity="0.65" stroke-width="0.7"/>
<circle cx="559.20" cy="201.72" r="1.90" fill="#ff0000" fill-opacity="0.55" stroke="#ff0000" stroke-opacity="0.65" stroke-width="0.7"/>
<circle cx="559.20" cy="202.88" r="1.90" fill="#ff0000" fill-opacity="0.55" stroke="#ff0000" stroke-opacity="0.65" stroke-width="0.7"/>
<circle cx="559.20" cy="204.03" r="1.90" fill="#ff0000" fill-opacity="0.55" stroke="#ff0000" stroke-opacity="0.65" stroke-width="0.7"/>
<circle cx="559.20" cy="205.18" r="1.90" fill="#ff0000" fill-opacity="0.55" stroke="#ff0000" stroke-opacity="0.65" stroke-width="0.7"/>
<circle cx="559.20" cy="206.34" r="1.90" fill="#ff0000" fill-opacity="0.55" stroke="#ff0000" stroke-opacity="0.65" stroke-width="0.7"/>
<circle cx="559.20" cy="207.49" r="1.90" fill="#ff0000" fill-opacity="0.55" stroke="#ff0000" stroke-opacity="0.65" stroke-width="0.7"/>
<circle cx="559.20" cy="208.65" r="1.90" fill="#ff0000" fill-opacity="0.55" stroke="#ff0000" stroke-opacity="0.65" stroke-width="0.7"/>
<circle cx="559.20" cy="209.80" r="1.90" fill="#ff0000" fill-opacity="0.55" stroke="#ff0000" stroke-opacity="0.65" stroke-width="0.7"/>
<circle cx="559.20" cy="222.40" r="1.90" fill="#ff0000" fill-opacity="0.55" stroke="#ff0000" stroke-opacity="0.65" stroke-width="0.7"/>
<circle cx="559.20" cy="224.80" r="1.90" fill="#ff0000" fill-opacity="0.55" stroke="#ff0000" stroke-opacity="0.65" stroke-width="0.7"/>
<circle cx="559.20" cy="225.68" r="1.90" fill="#ff0000" fill-opacity="0.55" stroke="#ff0000" stroke-opacity="0.65" stroke-width="0.7"/>
<circle cx="559.20" cy="226.56" r="1.90" fill="#ff0000" fill-opacity="0.55" stroke="#ff0000" stroke-opacity="0.65" stroke-width="0.7"/>
<circle cx="559.20" cy="227.44" r="1.90" fill="#ff0000" fill-opacity="0.55" stroke="#ff0000" stroke-opacity="0.65" stroke-width="0.7"/>
<circle cx="559.20" cy="228.32" r="1.90" fill="#ff0000" fill-opacity="0.55" stroke="#ff0000" stroke-opacity="0.65" stroke-width="0.7"/>
<circle cx="559.20" cy="229.20" r="1.90" fill="#ff0000" fill-opacity="0.55" stroke="#ff0000" stroke-opacity="0.65" stroke-width="0.7"/>
<circle cx="616.40" cy="157.50" r="1.90" fill="#ff0000" fill-opacity="0.55" stroke="#ff0000" stroke-opacity="0.65" stroke-width="0.7"/>
<circle cx="616.40" cy="158.47" r="1.90" fill="#ff0000" fill-opacity="0.55" stroke="#ff0000" stroke-opacity="0.65" stroke-width="0.7"/>
<circle cx="616.40" cy="159.43" r="1.90" fill="#ff0000" fill-opacity="0.55" stroke="#ff0000" stroke-opacity="0.65" stroke-width="0.7"/>
<circle cx="616.40" cy="160.40" r="1.90" fill="#ff0000" fill-opacity="0.55" stroke="#ff0000" stroke-opacity="0.65" stroke-width="0.7"/>
<circle cx="616.40" cy="161.37" r="1.90" fill="#ff0000" fill-opacity="0.55" stroke="#ff0000" stroke-opacity="0.65" stroke-width="0.7"/>
<circle cx="616.40" cy="162.33" r="1.90" fill="#ff0000" fill-opacity="0.55" stroke="#ff0000" stroke-opacity="0.65" stroke-width="0.7"/>
<circle cx="616.40" cy="163.30" r="1.90" fill="#ff0000" fill-opacity="0.55" stroke="#ff0000" stroke-opacity="0.65" stroke-width="0.7"/>
<circle cx="616.40" cy="181.80" r="1.90" fill="#ff0000" fill-opacity="0.55" stroke="#ff0000" stroke-opacity="0.65" stroke-width="0.7"/>
<circle cx="616.40" cy="183.90" r="1.90" fill="#ff0000" fill-opacity="0.55" stroke="#ff0000" stroke-opacity="0.65" stroke-width="0.7"/>
<circle cx="616.40" cy="186.00" r="1.90" fill="#ff0000" fill-opacity="0.55" stroke="#ff0000" stroke-opacity="0.65" stroke-width="0.7"/>
<circle cx="616.40" cy="187.70" r="1.90" fill="#ff0000" fill-opacity="0.55" stroke="#ff0000" stroke-opacity="0.65" stroke-width="0.7"/>
<circle cx="616.40" cy="193.60" r="1.90" fill="#ff0000" fill-opacity="0.55" stroke="#ff0000" stroke-opacity="0.65" stroke-width="0.7"/>
<circle cx="616.40" cy="194.68" r="1.90" fill="#ff0000" fill-opacity="0.55" stroke="#ff0000" stroke-opacity="0.65" stroke-width="0.7"/>
<circle cx="616.40" cy="195.77" r="1.90" fill="#ff0000" fill-opacity="0.55" stroke="#ff0000" stroke-opacity="0.65" stroke-width="0.7"/>
<circle cx="616.40" cy="196.85" r="1.90" fill="#ff0000" fill-opacity="0.55" stroke="#ff0000" stroke-opacity="0.65" stroke-width="0.7"/>
<circle cx="616.40" cy="197.93" r="1.90" fill="#ff0000" fill-opacity="0.55" stroke="#ff0000" stroke-opacity="0.65" stroke-width="0.7"/>
<circle cx="616.40" cy="199.02" r="1.90" fill="#ff0000" fill-opacity="0.55" stroke="#ff0000" stroke-opacity="0.65" stroke-width="0.7"/>
<circle cx="616.40" cy="200.10" r="1.90" fill="#ff0000" fill-opacity="0.55" stroke="#ff0000" stroke-opacity="0.65" stroke-width="0.7"/>
<circle cx="616.40" cy="201.18" r="1.90" fill="#ff0000" fill-opacity="0.55" stroke="#ff0000" stroke-opacity="0.65" stroke-width="0.7"/>
<circle cx="616.40" cy="202.27" r="1.90" fill="#ff0000" fill-opacity="0.55" stroke="#ff0000" stroke-opacity="0.65" stroke-width="0.7"/>
<circle cx="616.40" cy="203.35" r="1.90" fill="#ff0000" fill-opacity="0.55" stroke="#ff0000" stroke-opacity="0.65" stroke-width="0.7"/>
<circle cx="616.40" cy="204.43" r="1.90" fill="#ff0000" fill-opacity="0.55" stroke="#ff0000" stroke-opacity="0.65" stroke-width="0.7"/>
<circle cx="616.40" cy="205.52" r="1.90" fill="#ff0000" fill-opacity="0.55" stroke="#ff0000" stroke-opacity="0.65" stroke-width="0.7"/>
<circle cx="616.40" cy="206.60" r="1.90" fill="#ff0000" fill-opacity="0.55" stroke="#ff0000" stroke-opacity="0.65" stroke-width="0.7"/>
<circle cx="616.40" cy="217.60" r="1.90" fill="#ff0000" fill-opacity="0.55" stroke="#ff0000" stroke-opacity="0.65" stroke-width="0.7"/>
<circle cx="616.40" cy="222.80" r="1.90" fill="#ff0000" fill-opacity="0.55" stroke="#ff0000" stroke-opacity="0.65" stroke-width="0.7"/>
<circle cx="616.40" cy="223.75" r="1.90" fill="#ff0000" fill-opacity="0.55" stroke="#ff0000" stroke-opacity="0.65" stroke-width="0.7"/>
<circle cx="616.40" cy="224.70" r="1.90" fill="#ff0000" fill-opacity="0.55" stroke="#ff0000" stroke-opacity="0.65" stroke-width="0.7"/>
<circle cx="616.40" cy="225.65" r="1.90" fill="#ff0000" fill-opacity="0.55" stroke="#ff0000" stroke-opacity="0.65" stroke-width="0.7"/>
<circle cx="616.40" cy="226.60" r="1.90" fill="#ff0000" fill-opacity="0.55" stroke="#ff0000" stroke-opacity="0.65" stroke-width="0.7"/>
<circle cx="673.90" cy="152.80" r="1.90" fill="#ff0000" fill-opacity="0.55" stroke="#ff0000" stroke-opacity="0.65" stroke-width="0.7"/>
<circle cx="673.90" cy="153.73" r="1.90" fill="#ff0000" fill-opacity="0.55" stroke="#ff0000" stroke-opacity="0.65" stroke-width="0.7"/>
<circle cx="673.90" cy="154.67" r="1.90" fill="#ff0000" fill-opacity="0.55" stroke="#ff0000" stroke-opacity="0.65" stroke-width="0.7"/>
<circle cx="673.90" cy="155.60" r="1.90" fill="#ff0000" fill-opacity="0.55" stroke="#ff0000" stroke-opacity="0.65" stroke-width="0.7"/>
<circle cx="673.90" cy="156.53" r="1.90" fill="#ff0000" fill-opacity="0.55" stroke="#ff0000" stroke-opacity="0.65" stroke-width="0.7"/>
<circle cx="673.90" cy="157.47" r="1.90" fill="#ff0000" fill-opacity="0.55" stroke="#ff0000" stroke-opacity="0.65" stroke-width="0.7"/>
<circle cx="673.90" cy="158.40" r="1.90" fill="#ff0000" fill-opacity="0.55" stroke="#ff0000" stroke-opacity="0.65" stroke-width="0.7"/>
<circle cx="673.90" cy="159.33" r="1.90" fill="#ff0000" fill-opacity="0.55" stroke="#ff0000" stroke-opacity="0.65" stroke-width="0.7"/>
<circle cx="673.90" cy="160.27" r="1.90" fill="#ff0000" fill-opacity="0.55" stroke="#ff0000" stroke-opacity="0.65" stroke-width="0.7"/>
<circle cx="673.90" cy="161.20" r="1.90" fill="#ff0000" fill-opacity="0.55" stroke="#ff0000" stroke-opacity="0.65" stroke-width="0.7"/>
<circle cx="673.90" cy="180.80" r="1.90" fill="#ff0000" fill-opacity="0.55" stroke="#ff0000" stroke-opacity="0.65" stroke-width="0.7"/>
<circle cx="673.90" cy="182.60" r="1.90" fill="#ff0000" fill-opacity="0.55" stroke="#ff0000" stroke-opacity="0.65" stroke-width="0.7"/>
<circle cx="673.90" cy="184.60" r="1.90" fill="#ff0000" fill-opacity="0.55" stroke="#ff0000" stroke-opacity="0.65" stroke-width="0.7"/>
<circle cx="673.90" cy="191.50" r="1.90" fill="#ff0000" fill-opacity="0.55" stroke="#ff0000" stroke-opacity="0.65" stroke-width="0.7"/>
<circle cx="673.90" cy="192.51" r="1.90" fill="#ff0000" fill-opacity="0.55" stroke="#ff0000" stroke-opacity="0.65" stroke-width="0.7"/>
<circle cx="673.90" cy="193.53" r="1.90" fill="#ff0000" fill-opacity="0.55" stroke="#ff0000" stroke-opacity="0.65" stroke-width="0.7"/>
<circle cx="673.90" cy="194.54" r="1.90" fill="#ff0000" fill-opacity="0.55" stroke="#ff0000" stroke-opacity="0.65" stroke-width="0.7"/>
<circle cx="673.90" cy="195.56" r="1.90" fill="#ff0000" fill-opacity="0.55" stroke="#ff0000" stroke-opacity="0.65" stroke-width="0.7"/>
<circle cx="673.90" cy="196.57" r="1.90" fill="#ff0000" fill-opacity="0.55" stroke="#ff0000" stroke-opacity="0.65" stroke-width="0.7"/>
<circle cx="673.90" cy="197.59" r="1.90" fill="#ff0000" fill-opacity="0.55" stroke="#ff0000" stroke-opacity="0.65" stroke-width="0.7"/>
<circle cx="673.90" cy="198.60" r="1.90" fill="#ff0000" fill-opacity="0.55" stroke="#ff0000" stroke-opacity="0.65" stroke-width="0.7"/>
<circle cx="673.90" cy="201.20" r="1.90" fill="#ff0000" fill-opacity="0.55" stroke="#ff0000" stroke-opacity="0.65" stroke-width="0.7"/>
<circle cx="673.90" cy="203.70" r="1.90" fill="#ff0000" fill-opacity="0.55" stroke="#ff0000" stroke-opacity="0.65" stroke-width="0.7"/>
<circle cx="673.90" cy="214.60" r="1.90" fill="#ff0000" fill-opacity="0.55" stroke="#ff0000" stroke-opacity="0.65" stroke-width="0.7"/>
<circle cx="673.90" cy="216.60" r="1.90" fill="#ff0000" fill-opacity="0.55" stroke="#ff0000" stroke-opacity="0.65" stroke-width="0.7"/>
<circle cx="673.90" cy="217.80" r="1.90" fill="#ff0000" fill-opacity="0.55" stroke="#ff0000" stroke-opacity="0.65" stroke-width="0.7"/>
<circle cx="673.90" cy="219.00" r="1.90" fill="#ff0000" fill-opacity="0.55" stroke="#ff0000" stroke-opacity="0.65" stroke-width="0.7"/>
<circle cx="673.90" cy="220.20" r="1.90" fill="#ff0000" fill-opacity="0.55" stroke="#ff0000" stroke-opacity="0.65" stroke-width="0.7"/>
<circle cx="673.90" cy="221.40" r="1.90" fill="#ff0000" fill-opacity="0.55" stroke="#ff0000" stroke-opacity="0.65" stroke-width="0.7"/>
<circle cx="673.90" cy="222.60" r="1.90" fill="#ff0000" fill-opacity="0.55" stroke="#ff0000" stroke-opacity="0.65" stroke-width="0.7"/>
<polyline points="559.10,158.90 616.30,158.90 673.90,152.40" fill="none" stroke="#ffb260" stroke-width="1.1" stroke-linejoin="round"/>
</svg>
</body></html>
